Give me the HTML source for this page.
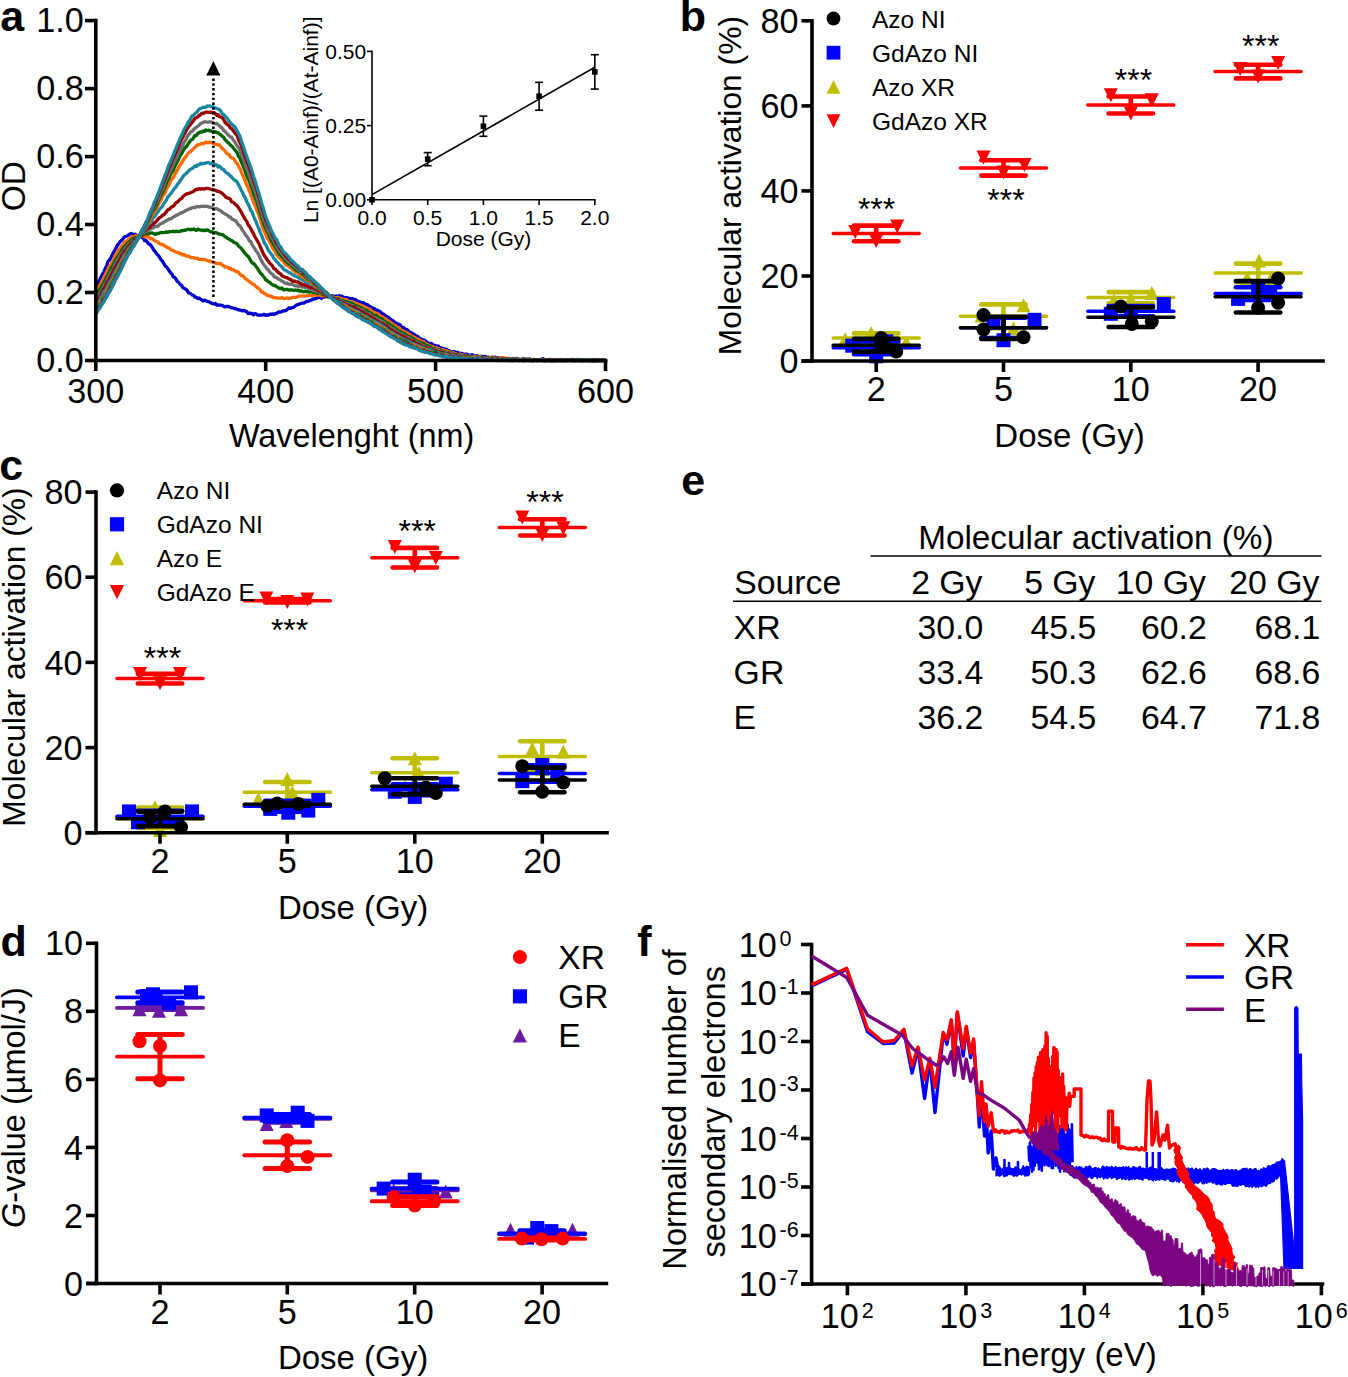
<!DOCTYPE html>
<html><head><meta charset="utf-8"><title>Figure</title>
<style>
html,body{margin:0;padding:0;background:#fff;}
body{width:1348px;height:1377px;overflow:hidden;}
svg{display:block;}
text{font-family:"Liberation Sans", sans-serif;fill:#000;}
</style></head><body>
<svg width="1348" height="1377" viewBox="0 0 1348 1377">
<rect width="1348" height="1377" fill="#fff"/>
<g>
<polyline points="95.8,286.6 97.2,285.7 98.5,281.8 99.9,279.5 101.2,276.7 102.6,273.9 104.0,271.9 105.3,268.4 106.7,265.9 108.0,261.5 109.4,260.1 110.8,257.8 112.1,255.1 113.5,252.6 114.8,250.2 116.2,247.6 117.5,245.2 118.9,243.7 120.3,241.4 121.6,240.3 123.0,238.8 124.3,237.1 125.7,236.5 127.1,236.0 128.4,235.1 129.8,234.1 131.1,233.3 132.5,234.2 133.9,234.4 135.2,234.2 136.6,235.4 137.9,235.7 139.3,235.7 140.7,236.5 142.0,237.5 143.4,238.2 144.7,240.7 146.1,240.3 147.4,242.3 148.8,243.9 150.2,244.6 151.5,246.2 152.9,248.5 154.2,250.7 155.6,252.2 157.0,254.1 158.3,255.4 159.7,257.5 161.0,259.6 162.4,261.1 163.8,263.5 165.1,265.7 166.5,266.9 167.8,268.7 169.2,270.8 170.6,272.8 171.9,274.1 173.3,276.9 174.6,277.3 176.0,279.1 177.4,281.6 178.7,282.4 180.1,284.4 181.4,285.1 182.8,287.6 184.1,288.4 185.5,289.0 186.9,290.1 188.2,292.6 189.6,293.1 190.9,293.8 192.3,295.2 193.7,295.3 195.0,297.2 196.4,297.3 197.7,298.5 199.1,298.1 200.5,299.3 201.8,300.0 203.2,301.0 204.5,300.1 205.9,300.9 207.3,301.4 208.6,301.6 210.0,302.4 211.3,303.2 212.7,303.6 214.1,304.0 215.4,303.5 216.8,305.0 218.1,305.0 219.5,305.2 220.8,305.2 222.2,305.4 223.6,306.4 224.9,306.9 226.3,306.5 227.6,306.3 229.0,306.8 230.4,307.3 231.7,307.9 233.1,307.9 234.4,308.5 235.8,308.5 237.2,309.5 238.5,309.6 239.9,310.1 241.2,310.3 242.6,310.9 244.0,310.4 245.3,311.2 246.7,311.6 248.0,313.5 249.4,313.1 250.7,313.6 252.1,313.4 253.5,314.8 254.8,313.6 256.2,313.9 257.5,315.1 258.9,315.1 260.3,315.2 261.6,315.1 263.0,314.9 264.3,314.4 265.7,315.4 267.1,314.9 268.4,315.1 269.8,314.2 271.1,314.4 272.5,313.8 273.9,314.4 275.2,313.7 276.6,313.5 277.9,312.1 279.3,312.0 280.7,312.0 282.0,311.6 283.4,310.8 284.7,310.8 286.1,310.4 287.4,309.3 288.8,307.9 290.2,308.4 291.5,307.9 292.9,307.5 294.2,306.9 295.6,305.6 297.0,304.8 298.3,304.6 299.7,303.9 301.0,303.5 302.4,303.0 303.8,303.2 305.1,302.2 306.5,301.5 307.8,301.4 309.2,300.7 310.6,300.4 311.9,299.8 313.3,298.9 314.6,299.0 316.0,298.5 317.3,297.8 318.7,297.6 320.1,296.9 321.4,298.3 322.8,296.9 324.1,297.2 325.5,296.8 326.9,296.3 328.2,296.1 329.6,296.0 330.9,296.3 332.3,295.6 333.7,296.4 335.0,296.3 336.4,296.0 337.7,296.7 339.1,295.7 340.5,296.3 341.8,296.1 343.2,297.2 344.5,297.6 345.9,297.6 347.3,297.6 348.6,298.5 350.0,298.3 351.3,298.8 352.7,298.5 354.0,299.8 355.4,299.5 356.8,300.7 358.1,301.3 359.5,301.8 360.8,302.5 362.2,302.6 363.6,302.9 364.9,303.9 366.3,304.4 367.6,304.7 369.0,305.9 370.4,306.6 371.7,307.5 373.1,308.8 374.4,308.5 375.8,310.3 377.2,310.0 378.5,311.1 379.9,311.4 381.2,312.8 382.6,313.9 384.0,314.3 385.3,315.6 386.7,316.4 388.0,317.2 389.4,318.2 390.7,319.2 392.1,320.4 393.5,321.1 394.8,322.8 396.2,322.9 397.5,324.3 398.9,324.2 400.3,325.1 401.6,327.3 403.0,327.3 404.3,328.2 405.7,329.4 407.1,329.7 408.4,330.9 409.8,332.4 411.1,332.6 412.5,333.5 413.9,334.2 415.2,335.7 416.6,335.8 417.9,336.6 419.3,338.2 420.6,338.8 422.0,339.4 423.4,340.4 424.7,340.2 426.1,341.5 427.4,342.7 428.8,343.3 430.2,343.7 431.5,343.3 432.9,344.9 434.2,345.3 435.6,345.7 437.0,346.5 438.3,346.0 439.7,347.7 441.0,347.7 442.4,348.4 443.8,348.7 445.1,349.9 446.5,349.2 447.8,350.4 449.2,350.7 450.6,351.5 451.9,351.8 453.3,351.7 454.6,351.9 456.0,352.3 457.3,352.4 458.7,352.9 460.1,353.5 461.4,353.4 462.8,353.8 464.1,354.3 465.5,354.2 466.9,354.2 468.2,354.8 469.6,355.3 470.9,355.0 472.3,354.7 473.7,355.8 475.0,355.9 476.4,356.1 477.7,355.7 479.1,357.1 480.5,356.4 481.8,356.2 483.2,357.2 484.5,356.4 485.9,356.9 487.2,357.4 488.6,357.2 490.0,358.1 491.3,357.8 492.7,356.9 494.0,358.1 495.4,357.1 496.8,358.0 498.1,357.6 499.5,358.1 500.8,359.1 502.2,358.5 503.6,358.3 504.9,358.9 506.3,359.1 507.6,358.4 509.0,358.9 510.4,359.4 511.7,359.1 513.1,358.5 514.4,359.1 515.8,358.6 517.2,358.4 518.5,359.1 519.9,359.6 521.2,359.7 522.6,359.2 523.9,358.9 525.3,359.2 526.7,359.1 528.0,359.6 529.4,359.3 530.7,359.7 532.1,359.6 533.5,360.1 534.8,360.2 536.2,359.8 537.5,360.1 538.9,360.1 540.3,359.5 541.6,359.8 543.0,358.6 544.3,359.5 545.7,360.1 547.1,359.6 548.4,359.8 549.8,360.2 551.1,359.5 552.5,360.3 553.9,360.5 555.2,359.7 556.6,360.3 557.9,359.5 559.3,360.4 560.6,360.5 562.0,359.5 563.4,360.5 564.7,360.1 566.1,359.6 567.4,360.2 568.8,360.3 570.2,360.2 571.5,359.9 572.9,360.5 574.2,360.0 575.6,360.1 577.0,359.4 578.3,360.5 579.7,360.5 581.0,360.1 582.4,360.5 583.8,360.3 585.1,360.3 586.5,359.9 587.8,360.5 589.2,360.5 590.5,360.5 591.9,360.5 593.3,359.8 594.6,360.5 596.0,360.5 597.3,360.5 598.7,360.3 600.1,360.4 601.4,360.5 602.8,360.2 604.1,360.4 605.5,360.2" fill="none" stroke="#0000CC" stroke-width="3.3" stroke-linejoin="round" />
<polyline points="95.8,293.3 97.2,289.8 98.5,287.7 99.9,285.3 101.2,282.9 102.6,280.2 104.0,277.1 105.3,274.9 106.7,271.7 108.0,269.2 109.4,266.3 110.8,264.0 112.1,261.7 113.5,259.9 114.8,256.4 116.2,253.8 117.5,251.8 118.9,249.6 120.3,248.1 121.6,246.2 123.0,244.8 124.3,242.3 125.7,241.5 127.1,240.5 128.4,239.7 129.8,238.2 131.1,236.9 132.5,236.8 133.9,237.0 135.2,235.9 136.6,235.8 137.9,235.8 139.3,235.8 140.7,235.6 142.0,235.8 143.4,235.9 144.7,236.8 146.1,236.1 147.4,237.0 148.8,236.7 150.2,238.9 151.5,238.4 152.9,239.1 154.2,240.5 155.6,241.1 157.0,241.7 158.3,242.5 159.7,243.7 161.0,244.3 162.4,244.5 163.8,245.1 165.1,246.3 166.5,247.1 167.8,247.7 169.2,248.0 170.6,249.6 171.9,250.3 173.3,250.4 174.6,251.6 176.0,252.0 177.4,252.3 178.7,252.7 180.1,253.9 181.4,253.6 182.8,255.1 184.1,254.5 185.5,255.9 186.9,256.2 188.2,255.9 189.6,256.8 190.9,257.5 192.3,257.7 193.7,257.7 195.0,258.2 196.4,258.5 197.7,258.3 199.1,259.3 200.5,259.4 201.8,259.7 203.2,259.3 204.5,259.7 205.9,259.8 207.3,260.7 208.6,261.0 210.0,261.0 211.3,261.9 212.7,261.7 214.1,262.2 215.4,263.1 216.8,263.3 218.1,263.7 219.5,263.4 220.8,263.5 222.2,265.2 223.6,265.7 224.9,267.2 226.3,266.7 227.6,267.4 229.0,268.4 230.4,268.2 231.7,269.7 233.1,269.8 234.4,270.2 235.8,271.5 237.2,271.5 238.5,272.3 239.9,274.3 241.2,275.4 242.6,275.7 244.0,277.1 245.3,278.8 246.7,279.5 248.0,280.6 249.4,281.7 250.7,282.4 252.1,283.7 253.5,284.2 254.8,285.4 256.2,286.8 257.5,287.7 258.9,288.7 260.3,290.2 261.6,292.1 263.0,292.3 264.3,293.7 265.7,293.9 267.1,295.2 268.4,295.6 269.8,296.2 271.1,296.1 272.5,297.1 273.9,297.6 275.2,297.6 276.6,298.1 277.9,298.0 279.3,298.2 280.7,298.1 282.0,297.5 283.4,298.5 284.7,298.3 286.1,298.4 287.4,297.9 288.8,298.5 290.2,298.2 291.5,297.7 292.9,297.3 294.2,297.3 295.6,297.3 297.0,297.2 298.3,296.4 299.7,295.9 301.0,296.2 302.4,296.1 303.8,295.8 305.1,296.2 306.5,295.9 307.8,295.7 309.2,295.4 310.6,295.4 311.9,295.8 313.3,294.8 314.6,294.5 316.0,295.3 317.3,295.0 318.7,295.1 320.1,295.0 321.4,296.1 322.8,294.9 324.1,295.9 325.5,295.4 326.9,296.0 328.2,296.4 329.6,296.5 330.9,296.2 332.3,297.1 333.7,297.2 335.0,297.5 336.4,298.2 337.7,297.3 339.1,297.9 340.5,298.5 341.8,298.4 343.2,299.7 344.5,299.7 345.9,299.4 347.3,300.1 348.6,301.8 350.0,302.6 351.3,302.1 352.7,301.7 354.0,302.8 355.4,303.2 356.8,303.4 358.1,304.6 359.5,304.8 360.8,305.1 362.2,305.9 363.6,306.6 364.9,307.7 366.3,307.9 367.6,309.0 369.0,309.0 370.4,309.3 371.7,311.3 373.1,312.6 374.4,312.6 375.8,313.1 377.2,313.6 378.5,314.3 379.9,315.9 381.2,316.8 382.6,316.8 384.0,318.6 385.3,318.7 386.7,320.1 388.0,320.6 389.4,321.6 390.7,322.5 392.1,323.4 393.5,325.0 394.8,325.4 396.2,326.4 397.5,327.2 398.9,327.7 400.3,329.2 401.6,330.2 403.0,331.0 404.3,331.6 405.7,332.0 407.1,333.4 408.4,333.4 409.8,334.6 411.1,335.6 412.5,336.9 413.9,337.0 415.2,337.7 416.6,339.5 417.9,339.0 419.3,339.6 420.6,340.9 422.0,341.6 423.4,341.5 424.7,342.7 426.1,344.2 427.4,344.5 428.8,345.1 430.2,345.7 431.5,347.2 432.9,346.4 434.2,347.5 435.6,347.6 437.0,348.2 438.3,348.3 439.7,349.2 441.0,349.9 442.4,349.8 443.8,349.9 445.1,351.0 446.5,350.7 447.8,351.6 449.2,352.3 450.6,351.8 451.9,353.1 453.3,352.7 454.6,353.6 456.0,353.6 457.3,354.5 458.7,354.6 460.1,354.1 461.4,354.7 462.8,355.0 464.1,355.4 465.5,355.2 466.9,356.1 468.2,356.2 469.6,356.0 470.9,356.5 472.3,356.6 473.7,356.5 475.0,356.7 476.4,356.8 477.7,356.2 479.1,356.6 480.5,356.7 481.8,357.3 483.2,357.6 484.5,358.1 485.9,357.8 487.2,358.6 488.6,358.1 490.0,357.6 491.3,357.4 492.7,357.7 494.0,358.6 495.4,358.1 496.8,358.7 498.1,358.1 499.5,358.6 500.8,358.2 502.2,357.6 503.6,358.4 504.9,357.8 506.3,358.8 507.6,359.1 509.0,358.4 510.4,358.3 511.7,359.3 513.1,359.1 514.4,359.8 515.8,359.3 517.2,358.9 518.5,359.4 519.9,359.6 521.2,360.0 522.6,359.3 523.9,359.2 525.3,359.3 526.7,359.5 528.0,360.1 529.4,358.9 530.7,359.7 532.1,359.8 533.5,359.4 534.8,360.5 536.2,359.8 537.5,359.9 538.9,359.7 540.3,359.3 541.6,359.7 543.0,360.5 544.3,360.1 545.7,359.9 547.1,360.0 548.4,360.5 549.8,360.5 551.1,359.9 552.5,360.0 553.9,360.1 555.2,360.5 556.6,359.4 557.9,360.5 559.3,360.3 560.6,359.4 562.0,360.3 563.4,360.1 564.7,360.5 566.1,359.7 567.4,360.5 568.8,360.2 570.2,360.2 571.5,360.5 572.9,360.0 574.2,360.5 575.6,360.5 577.0,360.4 578.3,360.5 579.7,360.2 581.0,360.0 582.4,360.5 583.8,360.5 585.1,360.5 586.5,360.5 587.8,360.1 589.2,360.5 590.5,360.3 591.9,360.5 593.3,360.5 594.6,360.1 596.0,360.5 597.3,360.5 598.7,359.9 600.1,360.5 601.4,360.5 602.8,360.5 604.1,360.5 605.5,360.5" fill="none" stroke="#FF6A00" stroke-width="3.3" stroke-linejoin="round" />
<polyline points="95.8,297.4 97.2,295.0 98.5,292.2 99.9,289.1 101.2,287.1 102.6,284.4 104.0,282.1 105.3,279.6 106.7,277.2 108.0,275.1 109.4,271.7 110.8,268.6 112.1,266.4 113.5,264.3 114.8,260.8 116.2,259.2 117.5,257.0 118.9,255.0 120.3,252.8 121.6,250.5 123.0,247.6 124.3,246.8 125.7,245.6 127.1,243.9 128.4,242.3 129.8,241.7 131.1,239.9 132.5,238.9 133.9,238.3 135.2,237.6 136.6,237.8 137.9,237.4 139.3,235.6 140.7,235.1 142.0,235.6 143.4,234.5 144.7,234.2 146.1,233.6 147.4,233.5 148.8,233.5 150.2,233.0 151.5,233.0 152.9,233.1 154.2,233.9 155.6,234.4 157.0,233.4 158.3,233.7 159.7,232.8 161.0,232.5 162.4,232.6 163.8,232.7 165.1,232.4 166.5,231.8 167.8,232.4 169.2,231.6 170.6,231.6 171.9,231.7 173.3,231.1 174.6,231.9 176.0,231.1 177.4,231.7 178.7,231.4 180.1,231.4 181.4,230.5 182.8,230.8 184.1,230.2 185.5,230.5 186.9,229.5 188.2,229.2 189.6,229.8 190.9,229.3 192.3,229.7 193.7,229.0 195.0,229.8 196.4,230.4 197.7,229.1 199.1,229.7 200.5,230.1 201.8,230.1 203.2,230.6 204.5,230.1 205.9,230.6 207.3,229.8 208.6,230.4 210.0,231.6 211.3,231.9 212.7,231.9 214.1,232.8 215.4,232.5 216.8,232.9 218.1,233.6 219.5,234.1 220.8,234.3 222.2,234.6 223.6,235.3 224.9,236.7 226.3,237.2 227.6,238.6 229.0,238.9 230.4,240.2 231.7,240.3 233.1,241.8 234.4,242.5 235.8,243.1 237.2,244.0 238.5,246.1 239.9,247.1 241.2,248.4 242.6,250.0 244.0,252.1 245.3,253.5 246.7,255.3 248.0,256.2 249.4,258.2 250.7,260.7 252.1,262.7 253.5,263.5 254.8,264.7 256.2,266.8 257.5,268.3 258.9,270.7 260.3,272.9 261.6,274.0 263.0,276.0 264.3,277.5 265.7,279.8 267.1,280.4 268.4,281.8 269.8,282.3 271.1,283.8 272.5,284.7 273.9,285.5 275.2,285.5 276.6,286.6 277.9,287.5 279.3,288.2 280.7,288.6 282.0,288.0 283.4,289.8 284.7,289.7 286.1,289.4 287.4,289.4 288.8,290.1 290.2,289.9 291.5,290.0 292.9,290.1 294.2,290.5 295.6,290.0 297.0,290.6 298.3,290.1 299.7,291.3 301.0,290.6 302.4,291.6 303.8,291.8 305.1,291.1 306.5,291.8 307.8,291.4 309.2,292.2 310.6,291.2 311.9,292.1 313.3,292.7 314.6,292.4 316.0,292.4 317.3,293.3 318.7,293.1 320.1,292.8 321.4,293.7 322.8,294.4 324.1,295.0 325.5,294.9 326.9,296.2 328.2,297.2 329.6,296.6 330.9,297.2 332.3,296.4 333.7,297.5 335.0,298.4 336.4,298.9 337.7,298.7 339.1,299.7 340.5,300.1 341.8,300.3 343.2,300.8 344.5,301.3 345.9,301.8 347.3,301.8 348.6,302.1 350.0,304.0 351.3,302.8 352.7,304.3 354.0,304.4 355.4,305.7 356.8,305.9 358.1,306.6 359.5,307.3 360.8,307.6 362.2,308.4 363.6,309.7 364.9,310.1 366.3,310.4 367.6,311.2 369.0,312.3 370.4,313.0 371.7,313.7 373.1,314.8 374.4,315.7 375.8,315.2 377.2,316.8 378.5,317.4 379.9,318.6 381.2,318.6 382.6,319.3 384.0,321.0 385.3,321.6 386.7,323.0 388.0,322.9 389.4,324.2 390.7,325.8 392.1,325.8 393.5,327.1 394.8,328.0 396.2,328.9 397.5,330.2 398.9,331.0 400.3,331.3 401.6,332.4 403.0,333.5 404.3,333.1 405.7,334.7 407.1,335.6 408.4,336.5 409.8,336.7 411.1,337.3 412.5,338.4 413.9,338.9 415.2,340.6 416.6,340.9 417.9,341.6 419.3,342.1 420.6,342.6 422.0,344.4 423.4,342.9 424.7,345.2 426.1,345.3 427.4,345.7 428.8,346.2 430.2,347.0 431.5,348.8 432.9,348.5 434.2,348.2 435.6,349.4 437.0,349.9 438.3,350.8 439.7,349.8 441.0,350.5 442.4,351.5 443.8,351.6 445.1,352.0 446.5,352.8 447.8,352.8 449.2,352.9 450.6,353.1 451.9,353.2 453.3,354.0 454.6,354.5 456.0,354.4 457.3,355.1 458.7,355.6 460.1,354.8 461.4,355.6 462.8,355.6 464.1,355.6 465.5,356.5 466.9,355.9 468.2,356.2 469.6,356.6 470.9,356.5 472.3,357.1 473.7,357.9 475.0,357.2 476.4,357.6 477.7,357.0 479.1,357.4 480.5,357.8 481.8,357.7 483.2,357.3 484.5,357.5 485.9,357.9 487.2,358.0 488.6,358.3 490.0,358.4 491.3,358.1 492.7,358.5 494.0,358.4 495.4,359.1 496.8,359.4 498.1,359.4 499.5,359.0 500.8,358.3 502.2,358.5 503.6,359.4 504.9,359.7 506.3,358.8 507.6,359.0 509.0,359.8 510.4,358.8 511.7,359.2 513.1,358.8 514.4,359.3 515.8,359.1 517.2,359.4 518.5,359.9 519.9,359.7 521.2,359.9 522.6,359.3 523.9,360.1 525.3,360.3 526.7,359.5 528.0,359.3 529.4,359.2 530.7,359.4 532.1,360.5 533.5,360.2 534.8,360.1 536.2,359.9 537.5,360.5 538.9,360.0 540.3,359.9 541.6,360.4 543.0,360.0 544.3,359.6 545.7,360.1 547.1,359.7 548.4,359.7 549.8,360.0 551.1,360.0 552.5,360.3 553.9,359.7 555.2,360.4 556.6,360.5 557.9,359.9 559.3,360.5 560.6,360.1 562.0,359.8 563.4,360.2 564.7,360.2 566.1,359.9 567.4,360.0 568.8,360.5 570.2,360.5 571.5,359.8 572.9,360.2 574.2,360.5 575.6,360.5 577.0,360.4 578.3,360.5 579.7,360.2 581.0,360.4 582.4,360.2 583.8,360.5 585.1,360.2 586.5,359.6 587.8,360.5 589.2,359.9 590.5,360.1 591.9,360.2 593.3,360.5 594.6,360.5 596.0,360.5 597.3,360.2 598.7,360.1 600.1,360.0 601.4,360.1 602.8,360.1 604.1,360.5 605.5,360.5" fill="none" stroke="#006400" stroke-width="3.3" stroke-linejoin="round" />
<polyline points="95.8,300.4 97.2,297.9 98.5,295.6 99.9,293.8 101.2,290.9 102.6,288.9 104.0,285.7 105.3,283.6 106.7,280.7 108.0,278.0 109.4,275.5 110.8,272.5 112.1,270.9 113.5,268.8 114.8,265.0 116.2,262.3 117.5,259.9 118.9,258.0 120.3,255.7 121.6,253.6 123.0,252.2 124.3,249.9 125.7,247.7 127.1,246.5 128.4,243.9 129.8,243.8 131.1,242.1 132.5,240.4 133.9,240.1 135.2,239.4 136.6,238.5 137.9,237.3 139.3,235.5 140.7,234.9 142.0,234.0 143.4,233.5 144.7,232.1 146.1,231.5 147.4,231.1 148.8,230.1 150.2,229.1 151.5,228.1 152.9,228.0 154.2,227.2 155.6,226.0 157.0,226.5 158.3,225.9 159.7,224.2 161.0,223.7 162.4,223.1 163.8,222.2 165.1,221.6 166.5,220.5 167.8,220.1 169.2,218.8 170.6,218.9 171.9,218.1 173.3,217.0 174.6,216.5 176.0,215.3 177.4,214.9 178.7,214.3 180.1,213.2 181.4,212.8 182.8,212.4 184.1,211.5 185.5,210.7 186.9,210.1 188.2,209.4 189.6,208.7 190.9,208.5 192.3,207.6 193.7,207.4 195.0,207.7 196.4,206.6 197.7,206.5 199.1,206.9 200.5,206.5 201.8,206.1 203.2,206.5 204.5,206.1 205.9,206.4 207.3,206.4 208.6,207.0 210.0,207.0 211.3,207.7 212.7,207.6 214.1,209.0 215.4,208.6 216.8,208.6 218.1,209.4 219.5,210.3 220.8,210.8 222.2,212.2 223.6,213.1 224.9,213.8 226.3,214.7 227.6,215.2 229.0,216.9 230.4,217.0 231.7,218.9 233.1,219.5 234.4,220.2 235.8,220.8 237.2,222.9 238.5,225.1 239.9,225.8 241.2,227.9 242.6,230.4 244.0,232.4 245.3,234.4 246.7,236.2 248.0,238.0 249.4,241.0 250.7,241.5 252.1,244.6 253.5,246.9 254.8,248.7 256.2,251.1 257.5,252.5 258.9,255.3 260.3,258.4 261.6,260.9 263.0,263.3 264.3,265.4 265.7,266.9 267.1,269.2 268.4,269.8 269.8,272.0 271.1,273.4 272.5,274.2 273.9,276.5 275.2,277.2 276.6,277.6 277.9,278.7 279.3,279.6 280.7,280.2 282.0,281.3 283.4,281.8 284.7,282.9 286.1,283.6 287.4,282.9 288.8,284.2 290.2,284.5 291.5,284.0 292.9,284.5 294.2,285.5 295.6,285.8 297.0,285.9 298.3,286.6 299.7,286.2 301.0,286.7 302.4,287.0 303.8,287.1 305.1,287.4 306.5,287.3 307.8,287.8 309.2,289.5 310.6,288.8 311.9,290.0 313.3,290.6 314.6,290.1 316.0,291.1 317.3,291.5 318.7,291.4 320.1,292.6 321.4,293.3 322.8,293.3 324.1,293.5 325.5,294.4 326.9,295.8 328.2,296.0 329.6,296.4 330.9,296.1 332.3,297.1 333.7,297.6 335.0,298.1 336.4,299.2 337.7,299.5 339.1,300.1 340.5,301.2 341.8,301.4 343.2,301.8 344.5,303.1 345.9,302.9 347.3,303.5 348.6,303.9 350.0,305.2 351.3,305.5 352.7,305.5 354.0,306.4 355.4,307.6 356.8,307.8 358.1,308.0 359.5,309.3 360.8,309.8 362.2,309.6 363.6,311.4 364.9,312.1 366.3,313.2 367.6,313.8 369.0,313.6 370.4,315.0 371.7,316.2 373.1,316.9 374.4,317.2 375.8,317.7 377.2,319.1 378.5,319.3 379.9,320.7 381.2,321.2 382.6,322.0 384.0,322.8 385.3,324.2 386.7,324.9 388.0,325.6 389.4,327.2 390.7,327.5 392.1,328.3 393.5,328.9 394.8,330.3 396.2,331.2 397.5,331.9 398.9,333.1 400.3,333.7 401.6,334.2 403.0,335.0 404.3,336.3 405.7,336.7 407.1,338.2 408.4,337.7 409.8,339.0 411.1,339.4 412.5,340.6 413.9,340.9 415.2,341.4 416.6,341.9 417.9,343.5 419.3,343.3 420.6,344.4 422.0,345.3 423.4,345.4 424.7,346.3 426.1,346.9 427.4,347.6 428.8,347.7 430.2,348.3 431.5,348.8 432.9,349.6 434.2,349.8 435.6,349.9 437.0,350.0 438.3,350.9 439.7,350.7 441.0,351.7 442.4,352.5 443.8,352.2 445.1,353.2 446.5,353.0 447.8,353.1 449.2,353.9 450.6,354.2 451.9,353.4 453.3,354.6 454.6,354.9 456.0,354.9 457.3,355.5 458.7,355.7 460.1,355.7 461.4,357.0 462.8,355.7 464.1,356.8 465.5,357.0 466.9,356.5 468.2,356.9 469.6,357.5 470.9,357.1 472.3,357.8 473.7,357.7 475.0,358.2 476.4,358.0 477.7,357.6 479.1,357.8 480.5,357.9 481.8,357.7 483.2,358.2 484.5,358.6 485.9,358.5 487.2,357.8 488.6,358.5 490.0,358.5 491.3,358.7 492.7,358.6 494.0,358.6 495.4,358.9 496.8,359.0 498.1,359.3 499.5,359.4 500.8,358.9 502.2,358.9 503.6,358.8 504.9,359.3 506.3,359.7 507.6,359.1 509.0,359.2 510.4,360.1 511.7,359.2 513.1,359.3 514.4,358.9 515.8,360.1 517.2,360.2 518.5,359.4 519.9,360.5 521.2,360.1 522.6,360.2 523.9,360.2 525.3,360.5 526.7,360.0 528.0,359.5 529.4,359.8 530.7,359.8 532.1,360.1 533.5,359.4 534.8,359.8 536.2,359.6 537.5,360.5 538.9,360.0 540.3,360.5 541.6,360.0 543.0,360.1 544.3,360.5 545.7,360.1 547.1,359.7 548.4,360.0 549.8,360.0 551.1,360.5 552.5,360.5 553.9,360.5 555.2,360.2 556.6,359.8 557.9,360.1 559.3,360.3 560.6,360.5 562.0,360.1 563.4,360.4 564.7,360.5 566.1,360.5 567.4,360.5 568.8,360.5 570.2,359.7 571.5,360.4 572.9,360.5 574.2,360.5 575.6,359.8 577.0,360.5 578.3,360.1 579.7,360.2 581.0,359.8 582.4,360.2 583.8,360.5 585.1,360.2 586.5,360.4 587.8,360.1 589.2,360.5 590.5,359.7 591.9,360.5 593.3,360.3 594.6,360.5 596.0,360.4 597.3,360.5 598.7,360.4 600.1,360.1 601.4,360.5 602.8,360.5 604.1,360.0 605.5,360.5" fill="none" stroke="#6E6E6E" stroke-width="3.3" stroke-linejoin="round" />
<polyline points="95.8,303.3 97.2,300.2 98.5,298.0 99.9,297.0 101.2,293.6 102.6,290.7 104.0,288.2 105.3,286.3 106.7,282.9 108.0,281.4 109.4,278.7 110.8,276.0 112.1,273.5 113.5,270.6 114.8,268.0 116.2,265.9 117.5,262.8 118.9,261.2 120.3,258.7 121.6,255.6 123.0,254.1 124.3,251.6 125.7,250.3 127.1,248.4 128.4,246.5 129.8,244.8 131.1,243.6 132.5,242.1 133.9,240.6 135.2,239.2 136.6,238.5 137.9,237.1 139.3,235.7 140.7,235.2 142.0,234.2 143.4,231.6 144.7,230.5 146.1,229.8 147.4,228.5 148.8,227.8 150.2,226.8 151.5,225.0 152.9,224.6 154.2,222.6 155.6,222.2 157.0,220.6 158.3,218.7 159.7,217.5 161.0,217.0 162.4,215.2 163.8,214.8 165.1,213.3 166.5,211.6 167.8,209.9 169.2,209.4 170.6,207.8 171.9,206.8 173.3,206.2 174.6,204.6 176.0,202.7 177.4,202.1 178.7,200.7 180.1,199.3 181.4,198.8 182.8,196.8 184.1,195.6 185.5,194.5 186.9,193.7 188.2,193.7 189.6,193.1 190.9,192.5 192.3,192.0 193.7,191.3 195.0,190.0 196.4,189.2 197.7,189.6 199.1,188.6 200.5,189.2 201.8,188.7 203.2,188.8 204.5,189.0 205.9,188.3 207.3,188.3 208.6,188.7 210.0,189.0 211.3,189.5 212.7,189.5 214.1,190.1 215.4,190.2 216.8,191.2 218.1,191.2 219.5,191.8 220.8,192.3 222.2,193.3 223.6,194.7 224.9,196.1 226.3,197.6 227.6,197.9 229.0,198.4 230.4,199.3 231.7,202.0 233.1,202.3 234.4,203.3 235.8,204.8 237.2,205.8 238.5,207.7 239.9,209.9 241.2,211.9 242.6,214.9 244.0,217.1 245.3,219.5 246.7,221.2 248.0,224.6 249.4,226.4 250.7,228.5 252.1,231.3 253.5,233.5 254.8,236.7 256.2,238.8 257.5,241.2 258.9,243.5 260.3,247.0 261.6,249.7 263.0,253.0 264.3,255.6 265.7,257.3 267.1,259.7 268.4,261.3 269.8,263.3 271.1,264.4 272.5,265.9 273.9,268.7 275.2,269.0 276.6,270.8 277.9,272.0 279.3,273.3 280.7,274.0 282.0,275.7 283.4,276.4 284.7,277.2 286.1,277.5 287.4,278.0 288.8,278.7 290.2,279.4 291.5,280.4 292.9,281.4 294.2,281.0 295.6,281.6 297.0,282.0 298.3,282.0 299.7,283.1 301.0,283.6 302.4,285.0 303.8,284.3 305.1,285.0 306.5,285.8 307.8,285.8 309.2,287.0 310.6,287.3 311.9,286.8 313.3,287.9 314.6,288.4 316.0,289.1 317.3,289.8 318.7,290.6 320.1,290.4 321.4,292.1 322.8,292.4 324.1,293.5 325.5,294.3 326.9,295.9 328.2,296.4 329.6,295.7 330.9,296.4 332.3,297.9 333.7,298.4 335.0,298.7 336.4,300.1 337.7,299.6 339.1,301.4 340.5,301.9 341.8,303.4 343.2,302.4 344.5,303.6 345.9,303.6 347.3,305.3 348.6,305.4 350.0,306.2 351.3,306.7 352.7,306.6 354.0,307.2 355.4,308.2 356.8,309.6 358.1,309.7 359.5,310.2 360.8,311.2 362.2,312.0 363.6,312.7 364.9,314.0 366.3,314.3 367.6,314.5 369.0,316.3 370.4,316.6 371.7,317.0 373.1,318.7 374.4,318.9 375.8,320.4 377.2,320.7 378.5,321.9 379.9,322.5 381.2,323.2 382.6,324.0 384.0,324.8 385.3,326.6 386.7,325.9 388.0,327.6 389.4,328.8 390.7,329.5 392.1,330.0 393.5,331.4 394.8,332.0 396.2,332.9 397.5,333.3 398.9,334.7 400.3,335.0 401.6,335.7 403.0,336.7 404.3,336.8 405.7,338.0 407.1,339.2 408.4,339.3 409.8,340.1 411.1,340.8 412.5,341.4 413.9,341.2 415.2,342.8 416.6,343.3 417.9,344.3 419.3,344.3 420.6,345.4 422.0,346.4 423.4,347.1 424.7,347.0 426.1,347.4 427.4,348.9 428.8,349.0 430.2,348.9 431.5,349.2 432.9,350.6 434.2,350.6 435.6,350.5 437.0,351.5 438.3,351.8 439.7,352.2 441.0,352.9 442.4,352.7 443.8,353.0 445.1,354.0 446.5,353.7 447.8,353.6 449.2,354.3 450.6,354.3 451.9,355.2 453.3,354.7 454.6,355.8 456.0,355.0 457.3,356.1 458.7,356.4 460.1,356.7 461.4,356.7 462.8,356.9 464.1,357.1 465.5,357.1 466.9,356.8 468.2,356.9 469.6,357.5 470.9,357.0 472.3,358.0 473.7,358.2 475.0,358.3 476.4,357.7 477.7,358.7 479.1,358.8 480.5,357.8 481.8,357.7 483.2,357.9 484.5,359.1 485.9,358.6 487.2,358.4 488.6,358.7 490.0,359.5 491.3,359.0 492.7,359.6 494.0,359.5 495.4,358.2 496.8,358.8 498.1,359.8 499.5,359.8 500.8,359.1 502.2,359.6 503.6,359.1 504.9,359.7 506.3,359.6 507.6,359.4 509.0,360.0 510.4,360.4 511.7,360.1 513.1,360.0 514.4,359.8 515.8,359.8 517.2,359.8 518.5,359.6 519.9,360.2 521.2,359.3 522.6,359.1 523.9,359.8 525.3,359.9 526.7,359.5 528.0,359.8 529.4,360.0 530.7,360.1 532.1,360.4 533.5,360.5 534.8,359.8 536.2,359.7 537.5,360.5 538.9,360.2 540.3,360.1 541.6,360.4 543.0,360.5 544.3,360.4 545.7,360.5 547.1,360.3 548.4,360.4 549.8,359.4 551.1,359.9 552.5,360.4 553.9,360.3 555.2,359.6 556.6,359.7 557.9,360.3 559.3,360.4 560.6,360.5 562.0,360.5 563.4,360.4 564.7,360.5 566.1,359.7 567.4,360.5 568.8,360.4 570.2,360.2 571.5,360.2 572.9,359.7 574.2,360.5 575.6,360.5 577.0,360.4 578.3,360.4 579.7,360.5 581.0,360.5 582.4,360.0 583.8,360.5 585.1,360.5 586.5,359.9 587.8,359.8 589.2,360.1 590.5,360.5 591.9,360.5 593.3,360.5 594.6,360.5 596.0,360.5 597.3,360.0 598.7,360.4 600.1,360.5 601.4,360.5 602.8,360.5 604.1,360.0 605.5,360.5" fill="none" stroke="#990000" stroke-width="3.3" stroke-linejoin="round" />
<polyline points="95.8,306.4 97.2,304.8 98.5,302.4 99.9,300.3 101.2,296.9 102.6,295.0 104.0,291.4 105.3,290.5 106.7,288.1 108.0,284.9 109.4,282.5 110.8,280.3 112.1,278.5 113.5,274.6 114.8,272.3 116.2,269.8 117.5,267.7 118.9,264.6 120.3,262.6 121.6,259.9 123.0,257.6 124.3,254.8 125.7,253.3 127.1,251.2 128.4,248.7 129.8,247.2 131.1,245.6 132.5,244.1 133.9,242.0 135.2,241.2 136.6,239.2 137.9,236.9 139.3,236.0 140.7,234.7 142.0,233.2 143.4,230.9 144.7,229.7 146.1,228.1 147.4,226.0 148.8,224.3 150.2,221.7 151.5,220.9 152.9,218.0 154.2,217.2 155.6,215.1 157.0,213.0 158.3,211.3 159.7,209.1 161.0,207.8 162.4,206.3 163.8,203.5 165.1,202.0 166.5,199.6 167.8,197.0 169.2,195.5 170.6,193.8 171.9,192.2 173.3,190.1 174.6,188.2 176.0,187.0 177.4,184.4 178.7,183.1 180.1,180.7 181.4,179.2 182.8,176.9 184.1,175.3 185.5,174.1 186.9,172.8 188.2,171.3 189.6,169.9 190.9,169.0 192.3,168.4 193.7,167.4 195.0,165.9 196.4,166.4 197.7,164.8 199.1,164.8 200.5,163.4 201.8,163.8 203.2,163.4 204.5,163.6 205.9,163.0 207.3,162.6 208.6,162.4 210.0,163.8 211.3,163.8 212.7,162.4 214.1,164.0 215.4,164.8 216.8,165.0 218.1,167.0 219.5,166.0 220.8,167.5 222.2,169.3 223.6,169.3 224.9,171.3 226.3,172.7 227.6,173.3 229.0,174.6 230.4,176.1 231.7,177.1 233.1,178.8 234.4,180.1 235.8,180.6 237.2,182.2 238.5,184.7 239.9,187.1 241.2,190.0 242.6,192.6 244.0,195.8 245.3,197.6 246.7,201.5 248.0,203.9 249.4,206.9 250.7,210.4 252.1,212.0 253.5,216.0 254.8,219.3 256.2,222.1 257.5,225.6 258.9,228.6 260.3,232.6 261.6,235.5 263.0,239.1 264.3,242.8 265.7,244.6 267.1,247.5 268.4,250.4 269.8,252.0 271.1,254.1 272.5,255.5 273.9,258.5 275.2,259.5 276.6,261.6 277.9,262.8 279.3,264.6 280.7,265.9 282.0,266.9 283.4,268.8 284.7,270.2 286.1,270.4 287.4,271.5 288.8,272.2 290.2,272.9 291.5,274.1 292.9,274.3 294.2,275.6 295.6,276.2 297.0,276.7 298.3,277.4 299.7,278.4 301.0,279.0 302.4,280.1 303.8,280.7 305.1,281.1 306.5,281.6 307.8,282.8 309.2,283.1 310.6,283.4 311.9,284.1 313.3,285.7 314.6,286.1 316.0,287.1 317.3,287.9 318.7,288.7 320.1,289.7 321.4,290.5 322.8,291.6 324.1,292.7 325.5,293.4 326.9,294.3 328.2,294.9 329.6,296.2 330.9,296.9 332.3,297.4 333.7,299.2 335.0,299.7 336.4,300.2 337.7,301.2 339.1,302.4 340.5,302.3 341.8,303.5 343.2,304.7 344.5,304.2 345.9,306.3 347.3,306.5 348.6,307.5 350.0,307.8 351.3,308.4 352.7,309.6 354.0,310.0 355.4,310.7 356.8,311.8 358.1,311.6 359.5,312.8 360.8,313.7 362.2,314.6 363.6,315.2 364.9,315.7 366.3,316.7 367.6,316.8 369.0,319.1 370.4,319.7 371.7,319.7 373.1,321.1 374.4,321.2 375.8,322.2 377.2,322.5 378.5,323.4 379.9,323.9 381.2,324.9 382.6,325.7 384.0,326.8 385.3,327.5 386.7,328.6 388.0,330.0 389.4,331.1 390.7,332.0 392.1,332.2 393.5,334.2 394.8,334.0 396.2,335.2 397.5,335.4 398.9,336.4 400.3,337.6 401.6,338.0 403.0,339.6 404.3,339.2 405.7,339.8 407.1,341.4 408.4,341.0 409.8,342.1 411.1,342.6 412.5,343.9 413.9,343.7 415.2,344.3 416.6,345.2 417.9,346.2 419.3,346.1 420.6,346.4 422.0,347.3 423.4,347.6 424.7,348.8 426.1,349.0 427.4,349.4 428.8,349.9 430.2,349.3 431.5,350.6 432.9,351.4 434.2,351.2 435.6,352.4 437.0,352.2 438.3,352.3 439.7,353.2 441.0,353.5 442.4,354.1 443.8,353.9 445.1,354.6 446.5,353.9 447.8,354.6 449.2,355.3 450.6,356.0 451.9,354.9 453.3,355.4 454.6,356.0 456.0,356.3 457.3,356.5 458.7,357.0 460.1,356.2 461.4,357.0 462.8,357.8 464.1,357.6 465.5,358.5 466.9,357.3 468.2,357.4 469.6,357.1 470.9,357.1 472.3,358.4 473.7,358.0 475.0,357.9 476.4,358.0 477.7,358.7 479.1,358.2 480.5,358.4 481.8,358.1 483.2,358.8 484.5,358.9 485.9,359.1 487.2,359.1 488.6,359.4 490.0,359.2 491.3,358.9 492.7,359.0 494.0,358.7 495.4,358.9 496.8,359.1 498.1,359.9 499.5,359.2 500.8,359.0 502.2,360.1 503.6,360.0 504.9,360.0 506.3,360.1 507.6,359.8 509.0,360.1 510.4,359.6 511.7,360.3 513.1,359.9 514.4,360.1 515.8,360.3 517.2,359.5 518.5,360.0 519.9,359.8 521.2,360.2 522.6,359.8 523.9,359.8 525.3,360.1 526.7,360.5 528.0,359.8 529.4,359.9 530.7,360.1 532.1,360.1 533.5,360.1 534.8,360.1 536.2,360.5 537.5,360.3 538.9,360.1 540.3,360.5 541.6,360.5 543.0,359.5 544.3,360.0 545.7,360.4 547.1,360.5 548.4,360.5 549.8,360.5 551.1,360.4 552.5,359.8 553.9,360.5 555.2,360.5 556.6,359.6 557.9,360.1 559.3,360.2 560.6,359.9 562.0,360.4 563.4,360.5 564.7,360.1 566.1,360.0 567.4,360.5 568.8,359.8 570.2,360.5 571.5,360.5 572.9,359.2 574.2,360.5 575.6,360.2 577.0,360.5 578.3,360.5 579.7,360.5 581.0,360.5 582.4,360.2 583.8,359.7 585.1,360.1 586.5,359.8 587.8,360.5 589.2,359.9 590.5,360.2 591.9,359.9 593.3,360.5 594.6,360.5 596.0,359.9 597.3,360.2 598.7,360.4 600.1,360.5 601.4,360.5 602.8,360.3 604.1,360.2 605.5,360.5" fill="none" stroke="#17869E" stroke-width="3.3" stroke-linejoin="round" />
<polyline points="95.8,309.5 97.2,307.0 98.5,305.4 99.9,302.3 101.2,300.4 102.6,298.1 104.0,296.7 105.3,294.0 106.7,291.3 108.0,288.7 109.4,286.5 110.8,283.4 112.1,281.0 113.5,278.7 114.8,276.8 116.2,272.8 117.5,270.8 118.9,267.8 120.3,265.7 121.6,262.8 123.0,260.0 124.3,257.8 125.7,255.2 127.1,253.4 128.4,250.4 129.8,250.0 131.1,247.5 132.5,245.0 133.9,243.7 135.2,242.0 136.6,240.7 137.9,237.6 139.3,236.9 140.7,233.8 142.0,231.9 143.4,229.4 144.7,227.0 146.1,225.7 147.4,223.5 148.8,221.1 150.2,219.4 151.5,216.1 152.9,214.3 154.2,211.8 155.6,210.0 157.0,207.1 158.3,204.9 159.7,202.2 161.0,200.0 162.4,196.6 163.8,194.7 165.1,192.8 166.5,189.0 167.8,186.8 169.2,184.6 170.6,180.7 171.9,179.4 173.3,177.7 174.6,175.0 176.0,172.3 177.4,170.2 178.7,167.2 180.1,164.9 181.4,163.4 182.8,160.9 184.1,158.6 185.5,157.1 186.9,155.3 188.2,153.2 189.6,152.0 190.9,151.4 192.3,149.8 193.7,148.5 195.0,147.2 196.4,146.3 197.7,144.6 199.1,144.7 200.5,144.2 201.8,143.2 203.2,143.8 204.5,143.0 205.9,142.1 207.3,142.8 208.6,142.7 210.0,142.1 211.3,142.6 212.7,143.1 214.1,143.5 215.4,144.3 216.8,144.4 218.1,145.2 219.5,145.0 220.8,146.8 222.2,148.4 223.6,149.5 224.9,150.9 226.3,152.8 227.6,154.0 229.0,154.4 230.4,156.9 231.7,157.8 233.1,158.4 234.4,159.7 235.8,162.3 237.2,163.3 238.5,166.4 239.9,168.2 241.2,171.6 242.6,175.0 244.0,177.9 245.3,181.2 246.7,185.0 248.0,187.0 249.4,191.2 250.7,193.9 252.1,198.0 253.5,202.0 254.8,205.2 256.2,208.4 257.5,211.7 258.9,215.1 260.3,219.8 261.6,224.0 263.0,228.3 264.3,231.4 265.7,234.5 267.1,238.3 268.4,239.6 269.8,242.3 271.1,244.3 272.5,247.9 273.9,249.8 275.2,251.9 276.6,254.4 277.9,256.0 279.3,257.8 280.7,258.8 282.0,260.3 283.4,261.4 284.7,263.4 286.1,265.1 287.4,265.5 288.8,266.7 290.2,267.6 291.5,268.5 292.9,270.2 294.2,270.6 295.6,272.3 297.0,272.7 298.3,273.4 299.7,274.6 301.0,275.3 302.4,276.9 303.8,277.4 305.1,278.0 306.5,279.5 307.8,280.3 309.2,279.9 310.6,281.7 311.9,283.1 313.3,284.2 314.6,284.2 316.0,286.9 317.3,286.9 318.7,287.5 320.1,289.1 321.4,289.7 322.8,291.4 324.1,292.0 325.5,293.1 326.9,294.2 328.2,295.3 329.6,296.4 330.9,296.9 332.3,298.4 333.7,299.5 335.0,300.3 336.4,301.2 337.7,302.6 339.1,303.6 340.5,304.3 341.8,304.4 343.2,305.7 344.5,306.4 345.9,305.9 347.3,307.4 348.6,308.7 350.0,309.6 351.3,309.6 352.7,311.2 354.0,311.1 355.4,312.1 356.8,312.6 358.1,314.2 359.5,314.3 360.8,316.1 362.2,316.2 363.6,316.4 364.9,317.3 366.3,319.1 367.6,318.9 369.0,319.7 370.4,320.7 371.7,321.8 373.1,322.4 374.4,323.3 375.8,323.5 377.2,324.5 378.5,325.1 379.9,326.1 381.2,327.8 382.6,328.1 384.0,328.1 385.3,330.3 386.7,330.7 388.0,332.0 389.4,332.9 390.7,333.3 392.1,333.9 393.5,334.8 394.8,335.8 396.2,336.4 397.5,338.2 398.9,338.0 400.3,338.9 401.6,339.9 403.0,340.5 404.3,341.5 405.7,341.3 407.1,342.7 408.4,343.6 409.8,343.6 411.1,344.5 412.5,344.9 413.9,344.9 415.2,346.1 416.6,346.6 417.9,346.3 419.3,348.3 420.6,348.1 422.0,348.3 423.4,348.7 424.7,348.9 426.1,350.5 427.4,350.4 428.8,351.2 430.2,351.7 431.5,352.2 432.9,352.8 434.2,352.5 435.6,352.6 437.0,353.7 438.3,353.3 439.7,354.2 441.0,354.7 442.4,355.6 443.8,354.4 445.1,354.8 446.5,355.5 447.8,355.8 449.2,356.5 450.6,356.0 451.9,356.4 453.3,356.4 454.6,356.8 456.0,357.6 457.3,357.9 458.7,357.2 460.1,358.2 461.4,357.6 462.8,357.4 464.1,358.4 465.5,357.7 466.9,358.1 468.2,358.0 469.6,358.6 470.9,358.4 472.3,358.4 473.7,357.9 475.0,358.4 476.4,358.6 477.7,359.4 479.1,358.8 480.5,359.3 481.8,359.1 483.2,359.0 484.5,358.8 485.9,359.0 487.2,359.2 488.6,359.4 490.0,358.8 491.3,359.8 492.7,359.5 494.0,359.0 495.4,359.7 496.8,359.3 498.1,359.3 499.5,358.9 500.8,359.3 502.2,360.5 503.6,359.8 504.9,359.7 506.3,359.5 507.6,359.8 509.0,359.2 510.4,359.5 511.7,360.5 513.1,360.3 514.4,360.5 515.8,359.4 517.2,360.2 518.5,360.2 519.9,360.5 521.2,360.4 522.6,360.1 523.9,360.4 525.3,360.4 526.7,360.5 528.0,359.5 529.4,360.5 530.7,360.5 532.1,360.5 533.5,360.5 534.8,360.4 536.2,360.5 537.5,360.5 538.9,360.5 540.3,360.3 541.6,360.5 543.0,359.6 544.3,359.8 545.7,360.5 547.1,360.5 548.4,360.1 549.8,359.9 551.1,359.7 552.5,360.5 553.9,360.5 555.2,360.5 556.6,360.3 557.9,360.5 559.3,360.3 560.6,360.3 562.0,360.2 563.4,360.5 564.7,360.4 566.1,360.5 567.4,360.5 568.8,360.0 570.2,360.5 571.5,359.9 572.9,360.5 574.2,359.8 575.6,359.8 577.0,360.5 578.3,360.4 579.7,360.4 581.0,360.5 582.4,360.2 583.8,360.3 585.1,360.5 586.5,360.5 587.8,360.2 589.2,360.5 590.5,360.5 591.9,359.9 593.3,360.5 594.6,360.4 596.0,360.1 597.3,360.2 598.7,360.5 600.1,360.5 601.4,360.5 602.8,360.5 604.1,360.3 605.5,360.3" fill="none" stroke="#FF6A00" stroke-width="3.3" stroke-linejoin="round" />
<polyline points="95.8,310.9 97.2,308.7 98.5,306.2 99.9,303.9 101.2,303.0 102.6,299.0 104.0,297.8 105.3,294.9 106.7,293.5 108.0,290.6 109.4,288.5 110.8,285.1 112.1,282.7 113.5,280.5 114.8,278.0 116.2,275.1 117.5,273.0 118.9,270.1 120.3,267.5 121.6,264.2 123.0,261.9 124.3,259.9 125.7,256.8 127.1,254.4 128.4,251.8 129.8,250.5 131.1,248.1 132.5,245.4 133.9,244.4 135.2,242.5 136.6,240.1 137.9,238.5 139.3,236.1 140.7,234.1 142.0,231.8 143.4,228.8 144.7,226.9 146.1,224.7 147.4,221.9 148.8,219.3 150.2,216.6 151.5,213.8 152.9,210.9 154.2,209.5 155.6,206.5 157.0,204.4 158.3,200.7 159.7,197.8 161.0,195.4 162.4,192.5 163.8,189.6 165.1,186.9 166.5,183.1 167.8,179.7 169.2,178.2 170.6,174.3 171.9,172.4 173.3,170.3 174.6,166.9 176.0,164.1 177.4,161.6 178.7,159.2 180.1,155.8 181.4,154.1 182.8,151.3 184.1,148.9 185.5,147.4 186.9,145.8 188.2,143.9 189.6,141.8 190.9,140.0 192.3,139.4 193.7,137.6 195.0,135.3 196.4,135.5 197.7,133.5 199.1,132.7 200.5,131.8 201.8,132.2 203.2,131.0 204.5,131.4 205.9,129.9 207.3,130.7 208.6,130.2 210.0,130.9 211.3,130.8 212.7,131.8 214.1,131.5 215.4,131.8 216.8,132.6 218.1,132.6 219.5,134.0 220.8,134.9 222.2,136.3 223.6,137.1 224.9,139.6 226.3,140.9 227.6,142.3 229.0,143.4 230.4,145.0 231.7,146.0 233.1,147.6 234.4,149.4 235.8,151.0 237.2,152.9 238.5,156.5 239.9,157.8 241.2,161.7 242.6,164.9 244.0,168.1 245.3,171.8 246.7,175.7 248.0,178.6 249.4,181.4 250.7,185.1 252.1,188.6 253.5,193.1 254.8,196.7 256.2,200.0 257.5,203.7 258.9,208.4 260.3,213.1 261.6,217.9 263.0,220.7 264.3,225.8 265.7,228.4 267.1,231.3 268.4,233.2 269.8,237.3 271.1,240.1 272.5,242.4 273.9,244.8 275.2,246.7 276.6,249.1 277.9,251.7 279.3,254.2 280.7,254.9 282.0,257.0 283.4,257.7 284.7,260.3 286.1,261.0 287.4,262.7 288.8,264.0 290.2,264.2 291.5,266.0 292.9,267.3 294.2,268.0 295.6,269.7 297.0,270.5 298.3,271.6 299.7,271.5 301.0,273.2 302.4,274.0 303.8,274.8 305.1,276.3 306.5,277.3 307.8,279.0 309.2,279.2 310.6,280.3 311.9,281.7 313.3,282.1 314.6,284.4 316.0,284.6 317.3,286.5 318.7,287.5 320.1,288.2 321.4,288.7 322.8,290.9 324.1,292.0 325.5,293.3 326.9,293.2 328.2,295.0 329.6,296.2 330.9,296.5 332.3,298.3 333.7,300.3 335.0,300.6 336.4,301.9 337.7,301.5 339.1,303.9 340.5,304.0 341.8,305.3 343.2,306.1 344.5,306.8 345.9,307.7 347.3,308.8 348.6,309.9 350.0,310.4 351.3,311.4 352.7,312.1 354.0,312.4 355.4,313.3 356.8,313.8 358.1,314.9 359.5,314.7 360.8,316.6 362.2,317.5 363.6,317.4 364.9,318.9 366.3,319.3 367.6,319.7 369.0,320.9 370.4,321.8 371.7,322.0 373.1,323.1 374.4,324.3 375.8,325.4 377.2,325.8 378.5,327.2 379.9,327.8 381.2,328.7 382.6,329.0 384.0,329.7 385.3,331.2 386.7,332.0 388.0,333.2 389.4,334.2 390.7,334.6 392.1,335.1 393.5,335.9 394.8,336.7 396.2,337.9 397.5,339.7 398.9,338.9 400.3,339.5 401.6,340.3 403.0,341.0 404.3,341.6 405.7,341.5 407.1,343.1 408.4,343.2 409.8,344.1 411.1,344.8 412.5,345.7 413.9,346.4 415.2,347.3 416.6,347.1 417.9,348.0 419.3,348.9 420.6,349.3 422.0,350.0 423.4,349.3 424.7,350.5 426.1,350.8 427.4,351.8 428.8,352.1 430.2,351.6 431.5,352.5 432.9,352.6 434.2,352.3 435.6,352.5 437.0,353.4 438.3,353.8 439.7,354.2 441.0,354.8 442.4,354.1 443.8,355.7 445.1,355.5 446.5,356.6 447.8,356.6 449.2,356.1 450.6,356.3 451.9,356.6 453.3,357.1 454.6,357.4 456.0,357.6 457.3,357.7 458.7,357.2 460.1,357.2 461.4,357.7 462.8,358.2 464.1,358.5 465.5,358.1 466.9,358.4 468.2,359.2 469.6,358.0 470.9,358.6 472.3,358.8 473.7,359.2 475.0,359.2 476.4,358.6 477.7,359.4 479.1,359.1 480.5,358.9 481.8,358.4 483.2,359.0 484.5,359.4 485.9,359.6 487.2,359.1 488.6,359.1 490.0,359.7 491.3,359.3 492.7,359.7 494.0,360.3 495.4,360.1 496.8,359.4 498.1,359.1 499.5,359.5 500.8,359.9 502.2,360.2 503.6,359.7 504.9,359.8 506.3,360.5 507.6,359.7 509.0,360.3 510.4,359.8 511.7,359.9 513.1,359.8 514.4,359.7 515.8,359.9 517.2,360.5 518.5,360.5 519.9,359.8 521.2,360.0 522.6,360.5 523.9,360.5 525.3,359.9 526.7,359.4 528.0,360.0 529.4,360.4 530.7,360.2 532.1,360.5 533.5,360.5 534.8,360.0 536.2,360.0 537.5,360.5 538.9,359.9 540.3,360.2 541.6,360.0 543.0,360.5 544.3,360.4 545.7,360.5 547.1,360.3 548.4,360.0 549.8,360.5 551.1,360.3 552.5,360.5 553.9,360.0 555.2,360.0 556.6,360.5 557.9,360.3 559.3,360.0 560.6,360.5 562.0,360.5 563.4,360.5 564.7,360.5 566.1,360.5 567.4,359.8 568.8,360.3 570.2,359.8 571.5,360.0 572.9,360.0 574.2,360.4 575.6,360.1 577.0,359.6 578.3,359.9 579.7,360.3 581.0,360.5 582.4,360.5 583.8,360.4 585.1,360.3 586.5,360.5 587.8,360.4 589.2,360.3 590.5,360.4 591.9,360.5 593.3,359.5 594.6,360.1 596.0,360.5 597.3,360.5 598.7,360.2 600.1,360.3 601.4,360.4 602.8,360.5 604.1,360.5 605.5,360.5" fill="none" stroke="#006400" stroke-width="3.3" stroke-linejoin="round" />
<polyline points="95.8,312.6 97.2,309.8 98.5,309.0 99.9,306.0 101.2,302.9 102.6,301.5 104.0,299.4 105.3,295.7 106.7,293.7 108.0,291.8 109.4,289.6 110.8,287.0 112.1,284.6 113.5,282.0 114.8,279.6 116.2,276.4 117.5,274.2 118.9,272.0 120.3,269.0 121.6,265.7 123.0,263.5 124.3,261.5 125.7,257.4 127.1,255.4 128.4,253.5 129.8,251.3 131.1,248.7 132.5,246.3 133.9,245.1 135.2,242.6 136.6,240.9 137.9,238.3 139.3,236.6 140.7,234.5 142.0,231.2 143.4,228.7 144.7,225.8 146.1,223.8 147.4,220.2 148.8,218.1 150.2,214.7 151.5,212.8 152.9,209.2 154.2,207.0 155.6,204.1 157.0,200.8 158.3,198.9 159.7,195.5 161.0,191.2 162.4,189.4 163.8,185.8 165.1,182.2 166.5,178.7 167.8,176.4 169.2,173.1 170.6,170.7 171.9,167.5 173.3,164.1 174.6,161.6 176.0,158.8 177.4,155.8 178.7,153.0 180.1,150.2 181.4,147.7 182.8,145.3 184.1,142.1 185.5,140.5 186.9,137.5 188.2,135.0 189.6,133.6 190.9,131.6 192.3,131.4 193.7,129.4 195.0,128.4 196.4,127.1 197.7,126.3 199.1,125.2 200.5,123.5 201.8,123.1 203.2,122.4 204.5,121.9 205.9,121.8 207.3,122.3 208.6,122.0 210.0,121.8 211.3,121.9 212.7,122.9 214.1,123.4 215.4,123.8 216.8,123.4 218.1,124.6 219.5,125.9 220.8,127.2 222.2,128.0 223.6,130.3 224.9,131.2 226.3,132.8 227.6,134.4 229.0,135.6 230.4,136.9 231.7,137.2 233.1,139.8 234.4,141.1 235.8,143.5 237.2,146.0 238.5,147.5 239.9,150.1 241.2,154.6 242.6,157.6 244.0,160.7 245.3,164.7 246.7,169.4 248.0,171.5 249.4,175.6 250.7,178.9 252.1,183.4 253.5,186.5 254.8,190.4 256.2,195.1 257.5,198.7 258.9,203.4 260.3,207.9 261.6,212.6 263.0,216.8 264.3,221.0 265.7,223.8 267.1,227.6 268.4,231.1 269.8,233.0 271.1,236.1 272.5,238.6 273.9,241.6 275.2,243.7 276.6,246.3 277.9,248.8 279.3,250.3 280.7,252.2 282.0,253.9 283.4,255.3 284.7,257.9 286.1,258.5 287.4,260.4 288.8,261.5 290.2,262.6 291.5,264.0 292.9,265.5 294.2,266.1 295.6,267.6 297.0,268.3 298.3,269.2 299.7,270.9 301.0,272.3 302.4,272.8 303.8,273.6 305.1,274.8 306.5,276.6 307.8,277.9 309.2,278.7 310.6,279.9 311.9,280.4 313.3,281.7 314.6,282.6 316.0,284.1 317.3,284.6 318.7,286.5 320.1,287.4 321.4,289.0 322.8,289.9 324.1,290.8 325.5,292.2 326.9,293.3 328.2,295.4 329.6,296.1 330.9,296.7 332.3,298.4 333.7,299.6 335.0,300.7 336.4,301.8 337.7,302.5 339.1,303.0 340.5,304.3 341.8,305.4 343.2,306.7 344.5,307.7 345.9,307.1 347.3,309.2 348.6,309.8 350.0,310.9 351.3,311.4 352.7,312.5 354.0,313.0 355.4,313.3 356.8,315.0 358.1,315.2 359.5,316.2 360.8,316.7 362.2,318.0 363.6,318.4 364.9,319.7 366.3,320.8 367.6,321.4 369.0,322.0 370.4,322.9 371.7,323.3 373.1,323.5 374.4,325.2 375.8,325.4 377.2,326.4 378.5,327.6 379.9,328.5 381.2,328.8 382.6,329.7 384.0,330.9 385.3,331.7 386.7,332.6 388.0,334.0 389.4,334.3 390.7,335.1 392.1,335.3 393.5,337.4 394.8,338.1 396.2,338.5 397.5,339.5 398.9,340.2 400.3,340.7 401.6,341.5 403.0,342.1 404.3,342.5 405.7,344.0 407.1,343.7 408.4,345.4 409.8,344.4 411.1,345.3 412.5,346.5 413.9,346.4 415.2,347.4 416.6,347.7 417.9,348.1 419.3,348.8 420.6,349.5 422.0,349.7 423.4,350.5 424.7,351.0 426.1,351.7 427.4,352.4 428.8,351.4 430.2,352.1 431.5,353.4 432.9,353.0 434.2,353.4 435.6,354.7 437.0,354.4 438.3,354.4 439.7,354.0 441.0,354.5 442.4,354.7 443.8,355.4 445.1,355.4 446.5,356.5 447.8,356.0 449.2,356.2 450.6,357.3 451.9,356.9 453.3,356.6 454.6,356.6 456.0,357.0 457.3,358.0 458.7,357.9 460.1,358.2 461.4,357.6 462.8,358.5 464.1,358.7 465.5,359.1 466.9,358.4 468.2,358.4 469.6,358.9 470.9,359.1 472.3,358.9 473.7,358.4 475.0,359.6 476.4,359.1 477.7,359.1 479.1,359.1 480.5,358.8 481.8,359.0 483.2,359.3 484.5,358.8 485.9,359.0 487.2,359.4 488.6,359.5 490.0,360.1 491.3,359.6 492.7,360.0 494.0,360.2 495.4,359.9 496.8,360.5 498.1,360.2 499.5,360.1 500.8,359.8 502.2,360.1 503.6,359.8 504.9,359.3 506.3,359.7 507.6,360.5 509.0,360.5 510.4,360.5 511.7,360.5 513.1,360.5 514.4,360.5 515.8,360.5 517.2,360.5 518.5,359.7 519.9,359.6 521.2,360.5 522.6,360.5 523.9,360.5 525.3,360.5 526.7,360.4 528.0,360.4 529.4,360.5 530.7,360.2 532.1,360.5 533.5,360.0 534.8,360.5 536.2,360.1 537.5,360.5 538.9,360.4 540.3,360.2 541.6,360.5 543.0,360.5 544.3,360.5 545.7,360.5 547.1,360.4 548.4,360.5 549.8,360.5 551.1,360.5 552.5,360.4 553.9,360.5 555.2,360.0 556.6,360.2 557.9,360.2 559.3,360.2 560.6,360.5 562.0,359.6 563.4,360.5 564.7,360.3 566.1,360.2 567.4,360.4 568.8,360.4 570.2,360.5 571.5,360.5 572.9,360.5 574.2,360.0 575.6,360.5 577.0,360.2 578.3,360.3 579.7,360.4 581.0,360.5 582.4,360.5 583.8,360.5 585.1,360.4 586.5,360.3 587.8,360.5 589.2,360.3 590.5,360.3 591.9,360.5 593.3,360.1 594.6,360.5 596.0,359.5 597.3,360.5 598.7,360.5 600.1,360.5 601.4,360.4 602.8,360.0 604.1,360.4 605.5,360.5" fill="none" stroke="#6E6E6E" stroke-width="3.3" stroke-linejoin="round" />
<polyline points="95.8,312.7 97.2,310.9 98.5,309.3 99.9,307.1 101.2,305.5 102.6,302.6 104.0,299.6 105.3,298.5 106.7,296.2 108.0,293.2 109.4,291.9 110.8,287.9 112.1,286.6 113.5,283.8 114.8,280.9 116.2,277.7 117.5,275.3 118.9,273.4 120.3,270.6 121.6,267.0 123.0,265.2 124.3,261.8 125.7,259.4 127.1,256.3 128.4,253.8 129.8,253.0 131.1,249.6 132.5,247.3 133.9,245.7 135.2,243.4 136.6,241.4 137.9,238.7 139.3,235.9 140.7,233.0 142.0,230.3 143.4,228.3 144.7,225.7 146.1,222.1 147.4,220.8 148.8,217.3 150.2,213.5 151.5,209.9 152.9,208.0 154.2,204.6 155.6,202.0 157.0,198.3 158.3,195.0 159.7,191.9 161.0,188.1 162.4,184.9 163.8,181.1 165.1,178.0 166.5,175.0 167.8,171.1 169.2,167.5 170.6,165.0 171.9,161.0 173.3,158.3 174.6,155.5 176.0,152.2 177.4,149.3 178.7,146.4 180.1,142.6 181.4,139.6 182.8,137.3 184.1,134.5 185.5,132.0 186.9,129.3 188.2,126.9 189.6,125.8 190.9,123.7 192.3,122.1 193.7,120.2 195.0,118.3 196.4,117.8 197.7,117.1 199.1,115.2 200.5,115.0 201.8,113.1 203.2,113.5 204.5,112.8 205.9,112.2 207.3,112.1 208.6,112.3 210.0,112.3 211.3,112.2 212.7,113.0 214.1,112.6 215.4,113.7 216.8,115.3 218.1,114.7 219.5,116.7 220.8,117.0 222.2,117.6 223.6,119.5 224.9,122.0 226.3,123.5 227.6,124.7 229.0,125.7 230.4,128.1 231.7,128.8 233.1,130.6 234.4,132.3 235.8,134.2 237.2,135.7 238.5,139.8 239.9,142.7 241.2,145.3 242.6,148.8 244.0,153.5 245.3,157.2 246.7,161.0 248.0,164.0 249.4,168.3 250.7,171.3 252.1,175.6 253.5,179.9 254.8,184.1 256.2,188.1 257.5,192.2 258.9,197.1 260.3,201.8 261.6,206.3 263.0,211.3 264.3,215.1 265.7,219.4 267.1,223.1 268.4,225.9 269.8,228.5 271.1,231.5 272.5,235.6 273.9,237.5 275.2,240.4 276.6,242.8 277.9,245.0 279.3,247.1 280.7,249.2 282.0,251.0 283.4,252.5 284.7,254.8 286.1,256.4 287.4,257.9 288.8,259.3 290.2,260.0 291.5,262.1 292.9,263.0 294.2,264.3 295.6,265.2 297.0,266.7 298.3,267.4 299.7,269.0 301.0,270.0 302.4,270.9 303.8,273.0 305.1,273.4 306.5,274.1 307.8,275.9 309.2,277.2 310.6,277.6 311.9,279.6 313.3,280.3 314.6,283.1 316.0,283.3 317.3,284.8 318.7,285.7 320.1,286.7 321.4,288.5 322.8,289.8 324.1,292.2 325.5,292.0 326.9,293.2 328.2,295.0 329.6,296.5 330.9,297.4 332.3,298.2 333.7,299.5 335.0,300.0 336.4,302.1 337.7,303.5 339.1,303.8 340.5,304.4 341.8,306.1 343.2,306.9 344.5,308.1 345.9,309.2 347.3,309.9 348.6,311.3 350.0,311.3 351.3,312.0 352.7,312.7 354.0,314.2 355.4,314.9 356.8,316.1 358.1,316.9 359.5,316.7 360.8,316.7 362.2,319.0 363.6,319.5 364.9,319.8 366.3,321.2 367.6,321.5 369.0,322.6 370.4,323.4 371.7,323.7 373.1,324.9 374.4,326.2 375.8,326.1 377.2,327.3 378.5,328.4 379.9,329.4 381.2,329.7 382.6,331.1 384.0,331.6 385.3,332.2 386.7,333.5 388.0,333.9 389.4,335.8 390.7,335.8 392.1,336.7 393.5,337.0 394.8,338.5 396.2,339.0 397.5,340.2 398.9,341.3 400.3,341.9 401.6,342.5 403.0,342.6 404.3,343.8 405.7,344.1 407.1,344.3 408.4,344.8 409.8,345.5 411.1,345.8 412.5,347.4 413.9,347.7 415.2,347.9 416.6,348.1 417.9,348.9 419.3,349.9 420.6,350.1 422.0,351.2 423.4,350.6 424.7,352.1 426.1,351.7 427.4,351.8 428.8,352.2 430.2,353.6 431.5,353.2 432.9,353.7 434.2,354.0 435.6,353.5 437.0,354.4 438.3,355.4 439.7,355.5 441.0,355.1 442.4,355.5 443.8,356.4 445.1,356.8 446.5,356.6 447.8,356.8 449.2,356.5 450.6,357.3 451.9,357.0 453.3,357.0 454.6,358.3 456.0,358.1 457.3,357.3 458.7,358.3 460.1,358.2 461.4,358.0 462.8,358.8 464.1,358.7 465.5,359.3 466.9,358.5 468.2,359.0 469.6,359.1 470.9,360.0 472.3,358.7 473.7,358.9 475.0,359.5 476.4,358.8 477.7,360.3 479.1,359.4 480.5,360.1 481.8,358.4 483.2,360.5 484.5,360.1 485.9,360.0 487.2,359.4 488.6,359.4 490.0,359.6 491.3,359.9 492.7,359.0 494.0,360.2 495.4,359.8 496.8,359.2 498.1,360.5 499.5,360.3 500.8,359.6 502.2,359.9 503.6,360.5 504.9,360.1 506.3,359.4 507.6,360.3 509.0,359.9 510.4,360.2 511.7,360.5 513.1,359.6 514.4,359.9 515.8,359.8 517.2,360.4 518.5,360.3 519.9,360.3 521.2,360.2 522.6,360.5 523.9,360.5 525.3,359.9 526.7,360.5 528.0,360.5 529.4,360.5 530.7,360.5 532.1,360.5 533.5,360.5 534.8,360.2 536.2,360.5 537.5,360.5 538.9,359.8 540.3,360.5 541.6,360.1 543.0,360.4 544.3,360.5 545.7,360.5 547.1,360.5 548.4,360.0 549.8,360.1 551.1,360.5 552.5,360.5 553.9,360.5 555.2,360.5 556.6,360.5 557.9,360.5 559.3,360.5 560.6,360.4 562.0,360.1 563.4,360.5 564.7,360.3 566.1,360.5 567.4,360.1 568.8,360.2 570.2,359.9 571.5,360.0 572.9,360.5 574.2,360.5 575.6,360.3 577.0,360.1 578.3,360.5 579.7,359.9 581.0,360.5 582.4,360.5 583.8,360.4 585.1,360.5 586.5,360.5 587.8,360.5 589.2,360.5 590.5,360.5 591.9,360.5 593.3,360.5 594.6,360.5 596.0,360.3 597.3,360.5 598.7,360.5 600.1,360.5 601.4,360.5 602.8,360.1 604.1,360.1 605.5,360.5" fill="none" stroke="#990000" stroke-width="3.3" stroke-linejoin="round" />
<polyline points="95.8,314.5 97.2,311.7 98.5,309.7 99.9,308.0 101.2,305.5 102.6,303.5 104.0,301.5 105.3,298.8 106.7,296.9 108.0,294.1 109.4,292.0 110.8,289.7 112.1,287.3 113.5,284.3 114.8,281.5 116.2,279.0 117.5,276.8 118.9,273.4 120.3,271.2 121.6,268.5 123.0,265.3 124.3,262.2 125.7,259.6 127.1,257.1 128.4,254.4 129.8,252.2 131.1,250.4 132.5,247.7 133.9,245.9 135.2,243.3 136.6,240.9 137.9,238.7 139.3,236.7 140.7,233.5 142.0,230.8 143.4,227.9 144.7,225.1 146.1,222.4 147.4,219.7 148.8,215.7 150.2,212.5 151.5,209.5 152.9,206.5 154.2,202.4 155.6,199.7 157.0,196.6 158.3,192.8 159.7,189.6 161.0,185.8 162.4,182.3 163.8,178.6 165.1,175.2 166.5,171.8 167.8,167.9 169.2,164.2 170.6,161.7 171.9,158.3 173.3,155.3 174.6,151.3 176.0,148.4 177.4,144.7 178.7,142.1 180.1,138.3 181.4,135.8 182.8,132.7 184.1,129.5 185.5,127.2 186.9,124.8 188.2,122.0 189.6,120.4 190.9,118.0 192.3,115.7 193.7,115.2 195.0,113.5 196.4,112.5 197.7,111.1 199.1,109.3 200.5,108.5 201.8,107.9 203.2,107.2 204.5,107.3 205.9,107.2 207.3,105.9 208.6,106.2 210.0,106.0 211.3,106.7 212.7,106.7 214.1,107.7 215.4,107.9 216.8,108.5 218.1,109.0 219.5,109.6 220.8,111.1 222.2,113.9 223.6,114.3 224.9,115.8 226.3,117.2 227.6,119.1 229.0,121.0 230.4,122.6 231.7,123.9 233.1,125.5 234.4,126.3 235.8,128.5 237.2,131.1 238.5,133.5 239.9,136.2 241.2,140.6 242.6,144.3 244.0,148.2 245.3,152.5 246.7,156.1 248.0,160.1 249.4,163.4 250.7,167.4 252.1,171.3 253.5,176.2 254.8,179.7 256.2,184.8 257.5,188.9 258.9,193.0 260.3,197.9 261.6,202.9 263.0,207.2 264.3,212.1 265.7,216.5 267.1,220.0 268.4,223.6 269.8,226.4 271.1,229.9 272.5,232.8 273.9,235.7 275.2,238.6 276.6,239.5 277.9,242.4 279.3,245.8 280.7,246.9 282.0,249.2 283.4,251.7 284.7,252.7 286.1,254.1 287.4,255.6 288.8,256.9 290.2,259.1 291.5,260.3 292.9,261.4 294.2,262.8 295.6,264.1 297.0,265.5 298.3,266.2 299.7,268.4 301.0,269.7 302.4,269.5 303.8,271.3 305.1,272.2 306.5,273.8 307.8,275.3 309.2,276.6 310.6,277.6 311.9,279.2 313.3,280.3 314.6,281.6 316.0,282.5 317.3,283.9 318.7,284.8 320.1,287.1 321.4,288.1 322.8,289.1 324.1,290.7 325.5,293.2 326.9,293.5 328.2,295.0 329.6,296.5 330.9,297.7 332.3,299.0 333.7,299.4 335.0,300.7 336.4,302.0 337.7,302.7 339.1,303.8 340.5,305.5 341.8,306.6 343.2,307.6 344.5,307.8 345.9,309.0 347.3,309.5 348.6,310.6 350.0,311.8 351.3,313.1 352.7,313.5 354.0,313.4 355.4,315.4 356.8,316.2 358.1,316.8 359.5,316.9 360.8,318.3 362.2,319.5 363.6,320.1 364.9,320.7 366.3,321.3 367.6,321.7 369.0,321.9 370.4,323.2 371.7,324.3 373.1,325.3 374.4,326.5 375.8,326.7 377.2,327.3 378.5,328.3 379.9,329.6 381.2,330.1 382.6,331.4 384.0,332.2 385.3,333.1 386.7,333.9 388.0,334.8 389.4,335.3 390.7,336.5 392.1,337.4 393.5,337.8 394.8,338.8 396.2,339.4 397.5,340.9 398.9,340.8 400.3,342.0 401.6,343.1 403.0,343.4 404.3,344.4 405.7,344.9 407.1,345.3 408.4,345.3 409.8,346.8 411.1,346.7 412.5,347.5 413.9,347.3 415.2,348.3 416.6,348.7 417.9,348.9 419.3,350.4 420.6,350.5 422.0,351.4 423.4,351.6 424.7,351.6 426.1,352.2 427.4,352.3 428.8,353.0 430.2,353.5 431.5,353.6 432.9,354.2 434.2,354.6 435.6,355.1 437.0,354.8 438.3,354.9 439.7,355.8 441.0,355.8 442.4,356.8 443.8,356.6 445.1,356.3 446.5,357.1 447.8,356.7 449.2,357.2 450.6,357.1 451.9,357.7 453.3,358.2 454.6,357.9 456.0,357.7 457.3,358.4 458.7,358.1 460.1,358.7 461.4,358.6 462.8,358.1 464.1,358.7 465.5,359.2 466.9,358.7 468.2,358.9 469.6,359.2 470.9,358.8 472.3,360.3 473.7,359.0 475.0,358.6 476.4,359.3 477.7,360.2 479.1,359.0 480.5,358.6 481.8,359.4 483.2,360.1 484.5,360.0 485.9,359.8 487.2,359.7 488.6,359.3 490.0,359.6 491.3,360.5 492.7,360.0 494.0,360.0 495.4,359.2 496.8,360.2 498.1,360.5 499.5,360.2 500.8,360.0 502.2,360.5 503.6,359.7 504.9,360.2 506.3,359.9 507.6,359.9 509.0,360.0 510.4,359.7 511.7,359.6 513.1,360.5 514.4,360.3 515.8,359.9 517.2,360.3 518.5,360.5 519.9,360.4 521.2,360.5 522.6,360.5 523.9,360.5 525.3,360.4 526.7,359.7 528.0,360.2 529.4,360.2 530.7,360.4 532.1,360.5 533.5,360.3 534.8,360.5 536.2,360.5 537.5,360.4 538.9,360.5 540.3,360.5 541.6,360.2 543.0,360.1 544.3,360.4 545.7,360.2 547.1,360.4 548.4,360.5 549.8,360.5 551.1,360.5 552.5,360.5 553.9,360.3 555.2,360.5 556.6,360.5 557.9,360.5 559.3,360.5 560.6,360.5 562.0,360.5 563.4,360.5 564.7,360.5 566.1,360.4 567.4,360.3 568.8,360.5 570.2,360.5 571.5,360.5 572.9,360.5 574.2,360.5 575.6,360.5 577.0,359.4 578.3,360.1 579.7,360.5 581.0,360.3 582.4,360.3 583.8,360.0 585.1,359.9 586.5,360.5 587.8,359.6 589.2,360.5 590.5,360.5 591.9,360.5 593.3,360.5 594.6,360.5 596.0,359.7 597.3,359.9 598.7,360.5 600.1,360.5 601.4,359.9 602.8,360.5 604.1,360.3 605.5,359.7" fill="none" stroke="#17869E" stroke-width="3.3" stroke-linejoin="round" />
<line x1="213.4" y1="78.5" x2="213.4" y2="297.0" stroke="#000" stroke-width="2.6" stroke-linecap="butt" stroke-dasharray="2.4 2.4"/>
<polygon points="213.4,60.9 220.4,75.4 206.3,75.4" fill="#000"/>
<line x1="95.8" y1="18.8" x2="95.8" y2="362.3" stroke="#000" stroke-width="3.6" stroke-linecap="butt" />
<line x1="94.0" y1="360.5" x2="607.4" y2="360.5" stroke="#000" stroke-width="3.6" stroke-linecap="butt" />
<line x1="85.0" y1="360.5" x2="95.8" y2="360.5" stroke="#000" stroke-width="3.6" stroke-linecap="butt" />
<text x="83.8" y="371.7" font-size="34.2" text-anchor="end" >0.0</text>
<line x1="85.0" y1="292.5" x2="95.8" y2="292.5" stroke="#000" stroke-width="3.6" stroke-linecap="butt" />
<text x="83.8" y="303.7" font-size="34.2" text-anchor="end" >0.2</text>
<line x1="85.0" y1="224.5" x2="95.8" y2="224.5" stroke="#000" stroke-width="3.6" stroke-linecap="butt" />
<text x="83.8" y="235.7" font-size="34.2" text-anchor="end" >0.4</text>
<line x1="85.0" y1="156.6" x2="95.8" y2="156.6" stroke="#000" stroke-width="3.6" stroke-linecap="butt" />
<text x="83.8" y="167.8" font-size="34.2" text-anchor="end" >0.6</text>
<line x1="85.0" y1="88.6" x2="95.8" y2="88.6" stroke="#000" stroke-width="3.6" stroke-linecap="butt" />
<text x="83.8" y="99.8" font-size="34.2" text-anchor="end" >0.8</text>
<line x1="85.0" y1="20.6" x2="95.8" y2="20.6" stroke="#000" stroke-width="3.6" stroke-linecap="butt" />
<text x="83.8" y="31.8" font-size="34.2" text-anchor="end" >1.0</text>
<line x1="95.8" y1="360.5" x2="95.8" y2="371.0" stroke="#000" stroke-width="3.6" stroke-linecap="butt" />
<text x="95.8" y="403.2" font-size="34.2" text-anchor="middle" >300</text>
<line x1="265.7" y1="360.5" x2="265.7" y2="371.0" stroke="#000" stroke-width="3.6" stroke-linecap="butt" />
<text x="265.7" y="403.2" font-size="34.2" text-anchor="middle" >400</text>
<line x1="435.6" y1="360.5" x2="435.6" y2="371.0" stroke="#000" stroke-width="3.6" stroke-linecap="butt" />
<text x="435.6" y="403.2" font-size="34.2" text-anchor="middle" >500</text>
<line x1="605.5" y1="360.5" x2="605.5" y2="371.0" stroke="#000" stroke-width="3.6" stroke-linecap="butt" />
<text x="605.5" y="403.2" font-size="34.2" text-anchor="middle" >600</text>
<text x="351.6" y="446.5" font-size="32.4" text-anchor="middle" >Wavelenght (nm)</text>
<text x="24.9" y="186.1" font-size="33.5" text-anchor="middle" transform="rotate(-90 24.9 186.1)">OD</text>
<text x="0.3" y="31.0" font-size="43" text-anchor="start" font-weight="bold" >a</text>
<line x1="372.0" y1="50.6" x2="372.0" y2="200.6" stroke="#000" stroke-width="1.6" stroke-linecap="butt" />
<line x1="371.2" y1="199.8" x2="595.6" y2="199.8" stroke="#000" stroke-width="1.6" stroke-linecap="butt" />
<line x1="367.0" y1="199.8" x2="372.0" y2="199.8" stroke="#000" stroke-width="1.6" stroke-linecap="butt" />
<text x="366.2" y="207.4" font-size="21" text-anchor="end" >0.00</text>
<line x1="367.0" y1="125.6" x2="372.0" y2="125.6" stroke="#000" stroke-width="1.6" stroke-linecap="butt" />
<text x="366.2" y="133.2" font-size="21" text-anchor="end" >0.25</text>
<line x1="367.0" y1="51.4" x2="372.0" y2="51.4" stroke="#000" stroke-width="1.6" stroke-linecap="butt" />
<text x="366.2" y="59.0" font-size="21" text-anchor="end" >0.50</text>
<line x1="372.0" y1="199.8" x2="372.0" y2="205.0" stroke="#000" stroke-width="1.6" stroke-linecap="butt" />
<text x="372.0" y="225.2" font-size="21" text-anchor="middle" >0.0</text>
<line x1="427.7" y1="199.8" x2="427.7" y2="205.0" stroke="#000" stroke-width="1.6" stroke-linecap="butt" />
<text x="427.7" y="225.2" font-size="21" text-anchor="middle" >0.5</text>
<line x1="483.4" y1="199.8" x2="483.4" y2="205.0" stroke="#000" stroke-width="1.6" stroke-linecap="butt" />
<text x="483.4" y="225.2" font-size="21" text-anchor="middle" >1.0</text>
<line x1="539.1" y1="199.8" x2="539.1" y2="205.0" stroke="#000" stroke-width="1.6" stroke-linecap="butt" />
<text x="539.1" y="225.2" font-size="21" text-anchor="middle" >1.5</text>
<line x1="594.8" y1="199.8" x2="594.8" y2="205.0" stroke="#000" stroke-width="1.6" stroke-linecap="butt" />
<text x="594.8" y="225.2" font-size="21" text-anchor="middle" >2.0</text>
<text x="483.5" y="246.3" font-size="21" text-anchor="middle" >Dose (Gy)</text>
<text x="318.6" y="120.0" font-size="21" text-anchor="middle" transform="rotate(-90 318.4 120)">Ln [(A0-Ainf)/(At-Ainf)]</text>
<line x1="372.0" y1="194.6" x2="594.8" y2="67.3" stroke="#000" stroke-width="1.6" stroke-linecap="butt" />
<line x1="427.7" y1="152.6" x2="427.7" y2="165.7" stroke="#000" stroke-width="1.6" stroke-linecap="butt" />
<line x1="423.7" y1="152.6" x2="431.7" y2="152.6" stroke="#000" stroke-width="1.6" stroke-linecap="butt" />
<line x1="423.7" y1="165.7" x2="431.7" y2="165.7" stroke="#000" stroke-width="1.6" stroke-linecap="butt" />
<rect x="424.9" y="156.3" width="5.6" height="5.6" fill="#000"/>
<line x1="483.4" y1="116.1" x2="483.4" y2="136.3" stroke="#000" stroke-width="1.6" stroke-linecap="butt" />
<line x1="479.4" y1="116.1" x2="487.4" y2="116.1" stroke="#000" stroke-width="1.6" stroke-linecap="butt" />
<line x1="479.4" y1="136.3" x2="487.4" y2="136.3" stroke="#000" stroke-width="1.6" stroke-linecap="butt" />
<rect x="480.6" y="123.4" width="5.6" height="5.6" fill="#000"/>
<line x1="539.1" y1="82.3" x2="539.1" y2="110.2" stroke="#000" stroke-width="1.6" stroke-linecap="butt" />
<line x1="535.1" y1="82.3" x2="543.1" y2="82.3" stroke="#000" stroke-width="1.6" stroke-linecap="butt" />
<line x1="535.1" y1="110.2" x2="543.1" y2="110.2" stroke="#000" stroke-width="1.6" stroke-linecap="butt" />
<rect x="536.3" y="93.4" width="5.6" height="5.6" fill="#000"/>
<line x1="594.8" y1="54.7" x2="594.8" y2="89.1" stroke="#000" stroke-width="1.6" stroke-linecap="butt" />
<line x1="590.8" y1="54.7" x2="598.8" y2="54.7" stroke="#000" stroke-width="1.6" stroke-linecap="butt" />
<line x1="590.8" y1="89.1" x2="598.8" y2="89.1" stroke="#000" stroke-width="1.6" stroke-linecap="butt" />
<rect x="592.0" y="69.1" width="5.6" height="5.6" fill="#000"/>
<rect x="369.2" y="197.0" width="5.6" height="5.6" fill="#000"/>
</g>
<polygon points="855.2,239.1 862.2,225.1 848.2,225.1" fill="#FF0000"/>
<polygon points="876.2,248.1 883.2,234.1 869.2,234.1" fill="#FF0000"/>
<polygon points="897.2,233.6 904.2,219.6 890.2,219.6" fill="#FF0000"/>
<line x1="833.2" y1="233.4" x2="919.2" y2="233.4" stroke="#FF0000" stroke-width="3.5" stroke-linecap="round" />
<line x1="876.2" y1="225.6" x2="876.2" y2="241.3" stroke="#FF0000" stroke-width="4.6" stroke-linecap="butt" />
<line x1="854.0" y1="225.6" x2="898.4" y2="225.6" stroke="#FF0000" stroke-width="4.6" stroke-linecap="round" />
<line x1="854.0" y1="241.3" x2="898.4" y2="241.3" stroke="#FF0000" stroke-width="4.6" stroke-linecap="round" />
<polygon points="845.2,331.9 852.2,345.9 838.2,345.9" fill="#BFBF00"/>
<polygon points="871.2,325.9 878.2,339.9 864.2,339.9" fill="#BFBF00"/>
<polygon points="906.2,335.3 913.2,349.3 899.2,349.3" fill="#BFBF00"/>
<line x1="833.2" y1="338.0" x2="919.2" y2="338.0" stroke="#BFBF00" stroke-width="3.5" stroke-linecap="round" />
<line x1="876.2" y1="333.4" x2="876.2" y2="342.7" stroke="#BFBF00" stroke-width="4.6" stroke-linecap="butt" />
<line x1="854.0" y1="333.4" x2="898.4" y2="333.4" stroke="#BFBF00" stroke-width="4.6" stroke-linecap="round" />
<line x1="854.0" y1="342.7" x2="898.4" y2="342.7" stroke="#BFBF00" stroke-width="4.6" stroke-linecap="round" />
<rect x="869.2" y="349.3" width="14.0" height="14.0" fill="#0000FF"/>
<rect x="845.2" y="338.7" width="14.0" height="14.0" fill="#0000FF"/>
<rect x="879.2" y="334.4" width="14.0" height="14.0" fill="#0000FF"/>
<line x1="833.2" y1="347.8" x2="919.2" y2="347.8" stroke="#0000FF" stroke-width="3.5" stroke-linecap="round" />
<line x1="876.2" y1="341.4" x2="876.2" y2="354.2" stroke="#0000FF" stroke-width="4.6" stroke-linecap="butt" />
<line x1="854.0" y1="341.4" x2="898.4" y2="341.4" stroke="#0000FF" stroke-width="4.6" stroke-linecap="round" />
<line x1="854.0" y1="354.2" x2="898.4" y2="354.2" stroke="#0000FF" stroke-width="4.6" stroke-linecap="round" />
<circle cx="881.2" cy="338.0" r="7.0" fill="#000000"/>
<circle cx="896.2" cy="351.6" r="7.0" fill="#000000"/>
<circle cx="884.2" cy="346.1" r="7.0" fill="#000000"/>
<line x1="833.2" y1="345.3" x2="919.2" y2="345.3" stroke="#000000" stroke-width="3.5" stroke-linecap="round" />
<line x1="876.2" y1="338.9" x2="876.2" y2="351.6" stroke="#000000" stroke-width="4.6" stroke-linecap="butt" />
<line x1="854.0" y1="338.9" x2="898.4" y2="338.9" stroke="#000000" stroke-width="4.6" stroke-linecap="round" />
<line x1="854.0" y1="351.6" x2="898.4" y2="351.6" stroke="#000000" stroke-width="4.6" stroke-linecap="round" />
<polygon points="983.5,164.5 990.5,150.5 976.5,150.5" fill="#FF0000"/>
<polygon points="1024.5,172.0 1031.5,158.0 1017.5,158.0" fill="#FF0000"/>
<polygon points="1003.5,179.6 1010.5,165.6 996.5,165.6" fill="#FF0000"/>
<line x1="960.5" y1="167.9" x2="1046.5" y2="167.9" stroke="#FF0000" stroke-width="3.5" stroke-linecap="round" />
<line x1="1003.5" y1="160.3" x2="1003.5" y2="175.6" stroke="#FF0000" stroke-width="4.6" stroke-linecap="butt" />
<line x1="981.3" y1="160.3" x2="1025.7" y2="160.3" stroke="#FF0000" stroke-width="4.6" stroke-linecap="round" />
<line x1="981.3" y1="175.6" x2="1025.7" y2="175.6" stroke="#FF0000" stroke-width="4.6" stroke-linecap="round" />
<polygon points="1023.5,298.3 1030.5,312.3 1016.5,312.3" fill="#BFBF00"/>
<polygon points="1013.5,321.3 1020.5,335.3 1006.5,335.3" fill="#BFBF00"/>
<polygon points="981.5,308.5 988.5,322.5 974.5,322.5" fill="#BFBF00"/>
<line x1="960.5" y1="316.3" x2="1046.5" y2="316.3" stroke="#BFBF00" stroke-width="3.5" stroke-linecap="round" />
<line x1="1003.5" y1="304.4" x2="1003.5" y2="328.3" stroke="#BFBF00" stroke-width="4.6" stroke-linecap="butt" />
<line x1="981.3" y1="304.4" x2="1025.7" y2="304.4" stroke="#BFBF00" stroke-width="4.6" stroke-linecap="round" />
<line x1="981.3" y1="328.3" x2="1025.7" y2="328.3" stroke="#BFBF00" stroke-width="4.6" stroke-linecap="round" />
<rect x="1027.5" y="312.8" width="14.0" height="14.0" fill="#0000FF"/>
<rect x="996.5" y="333.2" width="14.0" height="14.0" fill="#0000FF"/>
<rect x="986.5" y="315.7" width="14.0" height="14.0" fill="#0000FF"/>
<line x1="960.5" y1="327.8" x2="1046.5" y2="327.8" stroke="#0000FF" stroke-width="3.5" stroke-linecap="round" />
<line x1="1003.5" y1="317.6" x2="1003.5" y2="338.0" stroke="#0000FF" stroke-width="4.6" stroke-linecap="butt" />
<line x1="981.3" y1="317.6" x2="1025.7" y2="317.6" stroke="#0000FF" stroke-width="4.6" stroke-linecap="round" />
<line x1="981.3" y1="338.0" x2="1025.7" y2="338.0" stroke="#0000FF" stroke-width="4.6" stroke-linecap="round" />
<circle cx="983.5" cy="315.1" r="7.0" fill="#000000"/>
<circle cx="983.5" cy="329.5" r="7.0" fill="#000000"/>
<circle cx="1023.5" cy="337.2" r="7.0" fill="#000000"/>
<line x1="960.5" y1="327.8" x2="1046.5" y2="327.8" stroke="#000000" stroke-width="3.5" stroke-linecap="round" />
<line x1="1003.5" y1="316.8" x2="1003.5" y2="338.9" stroke="#000000" stroke-width="4.6" stroke-linecap="butt" />
<line x1="981.3" y1="316.8" x2="1025.7" y2="316.8" stroke="#000000" stroke-width="4.6" stroke-linecap="round" />
<line x1="981.3" y1="338.9" x2="1025.7" y2="338.9" stroke="#000000" stroke-width="4.6" stroke-linecap="round" />
<polygon points="1110.8,102.2 1117.8,88.2 1103.8,88.2" fill="#FF0000"/>
<polygon points="1130.8,120.5 1137.8,106.5 1123.8,106.5" fill="#FF0000"/>
<polygon points="1151.8,107.3 1158.8,93.3 1144.8,93.3" fill="#FF0000"/>
<line x1="1087.8" y1="105.0" x2="1173.8" y2="105.0" stroke="#FF0000" stroke-width="3.5" stroke-linecap="round" />
<line x1="1130.8" y1="96.5" x2="1130.8" y2="113.5" stroke="#FF0000" stroke-width="4.6" stroke-linecap="butt" />
<line x1="1108.6" y1="96.5" x2="1153.0" y2="96.5" stroke="#FF0000" stroke-width="4.6" stroke-linecap="round" />
<line x1="1108.6" y1="113.5" x2="1153.0" y2="113.5" stroke="#FF0000" stroke-width="4.6" stroke-linecap="round" />
<polygon points="1151.8,286.0 1158.8,300.0 1144.8,300.0" fill="#BFBF00"/>
<polygon points="1113.8,293.6 1120.8,307.6 1106.8,307.6" fill="#BFBF00"/>
<polygon points="1130.8,292.3 1137.8,306.3 1123.8,306.3" fill="#BFBF00"/>
<line x1="1087.8" y1="297.6" x2="1173.8" y2="297.6" stroke="#BFBF00" stroke-width="3.5" stroke-linecap="round" />
<line x1="1130.8" y1="292.1" x2="1130.8" y2="303.2" stroke="#BFBF00" stroke-width="4.6" stroke-linecap="butt" />
<line x1="1108.6" y1="292.1" x2="1153.0" y2="292.1" stroke="#BFBF00" stroke-width="4.6" stroke-linecap="round" />
<line x1="1108.6" y1="303.2" x2="1153.0" y2="303.2" stroke="#BFBF00" stroke-width="4.6" stroke-linecap="round" />
<rect x="1156.8" y="297.0" width="14.0" height="14.0" fill="#0000FF"/>
<rect x="1103.8" y="306.8" width="14.0" height="14.0" fill="#0000FF"/>
<rect x="1123.8" y="305.1" width="14.0" height="14.0" fill="#0000FF"/>
<line x1="1087.8" y1="311.2" x2="1173.8" y2="311.2" stroke="#0000FF" stroke-width="3.5" stroke-linecap="round" />
<line x1="1130.8" y1="306.1" x2="1130.8" y2="316.3" stroke="#0000FF" stroke-width="4.6" stroke-linecap="butt" />
<line x1="1108.6" y1="306.1" x2="1153.0" y2="306.1" stroke="#0000FF" stroke-width="4.6" stroke-linecap="round" />
<line x1="1108.6" y1="316.3" x2="1153.0" y2="316.3" stroke="#0000FF" stroke-width="4.6" stroke-linecap="round" />
<circle cx="1120.8" cy="306.6" r="7.0" fill="#000000"/>
<circle cx="1131.8" cy="324.0" r="7.0" fill="#000000"/>
<circle cx="1151.8" cy="321.5" r="7.0" fill="#000000"/>
<line x1="1087.8" y1="317.2" x2="1173.8" y2="317.2" stroke="#000000" stroke-width="3.5" stroke-linecap="round" />
<line x1="1130.8" y1="307.4" x2="1130.8" y2="327.0" stroke="#000000" stroke-width="4.6" stroke-linecap="butt" />
<line x1="1108.6" y1="307.4" x2="1153.0" y2="307.4" stroke="#000000" stroke-width="4.6" stroke-linecap="round" />
<line x1="1108.6" y1="327.0" x2="1153.0" y2="327.0" stroke="#000000" stroke-width="4.6" stroke-linecap="round" />
<polygon points="1278.1,69.9 1285.1,55.9 1271.1,55.9" fill="#FF0000"/>
<polygon points="1258.1,83.5 1265.1,69.5 1251.1,69.5" fill="#FF0000"/>
<polygon points="1240.1,75.9 1247.1,61.9 1233.1,61.9" fill="#FF0000"/>
<line x1="1215.1" y1="71.6" x2="1301.1" y2="71.6" stroke="#FF0000" stroke-width="3.5" stroke-linecap="round" />
<line x1="1258.1" y1="64.8" x2="1258.1" y2="78.4" stroke="#FF0000" stroke-width="4.6" stroke-linecap="butt" />
<line x1="1235.9" y1="64.8" x2="1280.3" y2="64.8" stroke="#FF0000" stroke-width="4.6" stroke-linecap="round" />
<line x1="1235.9" y1="78.4" x2="1280.3" y2="78.4" stroke="#FF0000" stroke-width="4.6" stroke-linecap="round" />
<polygon points="1259.1,253.6 1266.1,267.6 1252.1,267.6" fill="#BFBF00"/>
<polygon points="1247.1,271.1 1254.1,285.1 1240.1,285.1" fill="#BFBF00"/>
<polygon points="1270.1,273.2 1277.1,287.2 1263.1,287.2" fill="#BFBF00"/>
<line x1="1215.1" y1="273.0" x2="1301.1" y2="273.0" stroke="#BFBF00" stroke-width="3.5" stroke-linecap="round" />
<line x1="1258.1" y1="263.6" x2="1258.1" y2="282.3" stroke="#BFBF00" stroke-width="4.6" stroke-linecap="butt" />
<line x1="1235.9" y1="263.6" x2="1280.3" y2="263.6" stroke="#BFBF00" stroke-width="4.6" stroke-linecap="round" />
<line x1="1235.9" y1="282.3" x2="1280.3" y2="282.3" stroke="#BFBF00" stroke-width="4.6" stroke-linecap="round" />
<rect x="1231.1" y="291.9" width="14.0" height="14.0" fill="#0000FF"/>
<rect x="1263.1" y="286.8" width="14.0" height="14.0" fill="#0000FF"/>
<rect x="1251.1" y="281.7" width="14.0" height="14.0" fill="#0000FF"/>
<line x1="1215.1" y1="293.6" x2="1301.1" y2="293.6" stroke="#0000FF" stroke-width="3.5" stroke-linecap="round" />
<line x1="1258.1" y1="287.2" x2="1258.1" y2="300.0" stroke="#0000FF" stroke-width="4.6" stroke-linecap="butt" />
<line x1="1235.9" y1="287.2" x2="1280.3" y2="287.2" stroke="#0000FF" stroke-width="4.6" stroke-linecap="round" />
<line x1="1235.9" y1="300.0" x2="1280.3" y2="300.0" stroke="#0000FF" stroke-width="4.6" stroke-linecap="round" />
<circle cx="1278.1" cy="278.5" r="7.0" fill="#000000"/>
<circle cx="1278.1" cy="302.7" r="7.0" fill="#000000"/>
<circle cx="1258.1" cy="307.8" r="7.0" fill="#000000"/>
<line x1="1215.1" y1="296.8" x2="1301.1" y2="296.8" stroke="#000000" stroke-width="3.5" stroke-linecap="round" />
<line x1="1258.1" y1="281.1" x2="1258.1" y2="312.5" stroke="#000000" stroke-width="4.6" stroke-linecap="butt" />
<line x1="1235.9" y1="281.1" x2="1280.3" y2="281.1" stroke="#000000" stroke-width="4.6" stroke-linecap="round" />
<line x1="1235.9" y1="312.5" x2="1280.3" y2="312.5" stroke="#000000" stroke-width="4.6" stroke-linecap="round" />
<line x1="812.0" y1="19.0" x2="812.0" y2="362.8" stroke="#000" stroke-width="3.6" stroke-linecap="butt" />
<line x1="801.5" y1="361.0" x2="1324.8" y2="361.0" stroke="#000" stroke-width="3.6" stroke-linecap="butt" />
<line x1="801.5" y1="361.0" x2="812.0" y2="361.0" stroke="#000" stroke-width="3.6" stroke-linecap="butt" />
<text x="798.5" y="373.1" font-size="34.2" text-anchor="end" >0</text>
<line x1="801.5" y1="276.0" x2="812.0" y2="276.0" stroke="#000" stroke-width="3.6" stroke-linecap="butt" />
<text x="798.5" y="288.1" font-size="34.2" text-anchor="end" >20</text>
<line x1="801.5" y1="190.9" x2="812.0" y2="190.9" stroke="#000" stroke-width="3.6" stroke-linecap="butt" />
<text x="798.5" y="203.0" font-size="34.2" text-anchor="end" >40</text>
<line x1="801.5" y1="105.9" x2="812.0" y2="105.9" stroke="#000" stroke-width="3.6" stroke-linecap="butt" />
<text x="798.5" y="118.0" font-size="34.2" text-anchor="end" >60</text>
<line x1="801.5" y1="20.8" x2="812.0" y2="20.8" stroke="#000" stroke-width="3.6" stroke-linecap="butt" />
<text x="798.5" y="32.9" font-size="34.2" text-anchor="end" >80</text>
<line x1="876.2" y1="361.0" x2="876.2" y2="372.0" stroke="#000" stroke-width="3.6" stroke-linecap="butt" />
<text x="876.2" y="401.2" font-size="34.2" text-anchor="middle" >2</text>
<line x1="1003.5" y1="361.0" x2="1003.5" y2="372.0" stroke="#000" stroke-width="3.6" stroke-linecap="butt" />
<text x="1003.5" y="401.2" font-size="34.2" text-anchor="middle" >5</text>
<line x1="1130.8" y1="361.0" x2="1130.8" y2="372.0" stroke="#000" stroke-width="3.6" stroke-linecap="butt" />
<text x="1130.8" y="401.2" font-size="34.2" text-anchor="middle" >10</text>
<line x1="1258.1" y1="361.0" x2="1258.1" y2="372.0" stroke="#000" stroke-width="3.6" stroke-linecap="butt" />
<text x="1258.1" y="401.2" font-size="34.2" text-anchor="middle" >20</text>
<text x="876.6" y="219.8" font-size="32" text-anchor="middle" >***</text>
<text x="1006.0" y="210.8" font-size="32" text-anchor="middle" >***</text>
<text x="1133.4" y="90.8" font-size="32" text-anchor="middle" >***</text>
<text x="1260.7" y="57.2" font-size="32" text-anchor="middle" >***</text>
<circle cx="833.5" cy="18.5" r="6.9" fill="#000000"/>
<text x="872.0" y="27.6" font-size="24.5" text-anchor="start" >Azo NI</text>
<rect x="826.6" y="45.8" width="13.8" height="13.8" fill="#0000FF"/>
<text x="872.0" y="61.8" font-size="24.5" text-anchor="start" >GdAzo NI</text>
<polygon points="833.5,80.0 840.4,93.8 826.6,93.8" fill="#BFBF00"/>
<text x="872.0" y="96.0" font-size="24.5" text-anchor="start" >Azo XR</text>
<polygon points="833.5,128.0 840.4,114.2 826.6,114.2" fill="#FF0000"/>
<text x="872.0" y="130.2" font-size="24.5" text-anchor="start" >GdAzo XR</text>
<text x="1069.5" y="446.7" font-size="33.0" text-anchor="middle" >Dose (Gy)</text>
<text x="741.0" y="185.6" font-size="31.8" text-anchor="middle" transform="rotate(-90 741 185.6)">Molecular activation (%)</text>
<text x="679.8" y="30.6" font-size="43" text-anchor="start" font-weight="bold" >b</text>
<polygon points="140.0,680.9 147.0,666.9 133.0,666.9" fill="#FF0000"/>
<polygon points="180.0,680.9 187.0,666.9 173.0,666.9" fill="#FF0000"/>
<polygon points="160.0,690.3 167.0,676.3 153.0,676.3" fill="#FF0000"/>
<line x1="117.0" y1="678.6" x2="203.0" y2="678.6" stroke="#FF0000" stroke-width="3.5" stroke-linecap="round" />
<line x1="160.0" y1="673.7" x2="160.0" y2="683.5" stroke="#FF0000" stroke-width="4.6" stroke-linecap="butt" />
<line x1="137.8" y1="673.7" x2="182.2" y2="673.7" stroke="#FF0000" stroke-width="4.6" stroke-linecap="round" />
<line x1="137.8" y1="683.5" x2="182.2" y2="683.5" stroke="#FF0000" stroke-width="4.6" stroke-linecap="round" />
<polygon points="155.0,800.2 162.0,814.2 148.0,814.2" fill="#BFBF00"/>
<polygon points="160.0,823.1 167.0,837.1 153.0,837.1" fill="#BFBF00"/>
<polygon points="168.0,809.5 175.0,823.5 161.0,823.5" fill="#BFBF00"/>
<line x1="117.0" y1="817.8" x2="203.0" y2="817.8" stroke="#BFBF00" stroke-width="3.5" stroke-linecap="round" />
<line x1="160.0" y1="807.6" x2="160.0" y2="828.0" stroke="#BFBF00" stroke-width="4.6" stroke-linecap="butt" />
<line x1="137.8" y1="807.6" x2="182.2" y2="807.6" stroke="#BFBF00" stroke-width="4.6" stroke-linecap="round" />
<line x1="137.8" y1="828.0" x2="182.2" y2="828.0" stroke="#BFBF00" stroke-width="4.6" stroke-linecap="round" />
<rect x="122.0" y="804.4" width="14.0" height="14.0" fill="#0000FF"/>
<rect x="185.0" y="804.4" width="14.0" height="14.0" fill="#0000FF"/>
<rect x="131.0" y="815.3" width="14.0" height="14.0" fill="#0000FF"/>
<line x1="117.0" y1="816.3" x2="203.0" y2="816.3" stroke="#0000FF" stroke-width="3.5" stroke-linecap="round" />
<line x1="160.0" y1="810.8" x2="160.0" y2="821.8" stroke="#0000FF" stroke-width="4.6" stroke-linecap="butt" />
<line x1="137.8" y1="810.8" x2="182.2" y2="810.8" stroke="#0000FF" stroke-width="4.6" stroke-linecap="round" />
<line x1="137.8" y1="821.8" x2="182.2" y2="821.8" stroke="#0000FF" stroke-width="4.6" stroke-linecap="round" />
<circle cx="150.0" cy="817.4" r="7.0" fill="#000000"/>
<circle cx="165.0" cy="811.4" r="7.0" fill="#000000"/>
<circle cx="181.0" cy="827.2" r="7.0" fill="#000000"/>
<line x1="117.0" y1="818.8" x2="203.0" y2="818.8" stroke="#000000" stroke-width="3.5" stroke-linecap="round" />
<line x1="160.0" y1="811.6" x2="160.0" y2="826.1" stroke="#000000" stroke-width="4.6" stroke-linecap="butt" />
<line x1="137.8" y1="811.6" x2="182.2" y2="811.6" stroke="#000000" stroke-width="4.6" stroke-linecap="round" />
<line x1="137.8" y1="826.1" x2="182.2" y2="826.1" stroke="#000000" stroke-width="4.6" stroke-linecap="round" />
<polygon points="266.3,605.5 273.3,591.5 259.3,591.5" fill="#FF0000"/>
<polygon points="287.3,608.9 294.3,594.9 280.3,594.9" fill="#FF0000"/>
<polygon points="307.3,606.4 314.3,592.4 300.3,592.4" fill="#FF0000"/>
<line x1="244.3" y1="600.7" x2="330.3" y2="600.7" stroke="#FF0000" stroke-width="3.5" stroke-linecap="round" />
<line x1="287.3" y1="599.0" x2="287.3" y2="602.4" stroke="#FF0000" stroke-width="4.6" stroke-linecap="butt" />
<line x1="265.1" y1="599.0" x2="309.5" y2="599.0" stroke="#FF0000" stroke-width="4.6" stroke-linecap="round" />
<line x1="265.1" y1="602.4" x2="309.5" y2="602.4" stroke="#FF0000" stroke-width="4.6" stroke-linecap="round" />
<polygon points="287.3,772.1 294.3,786.1 280.3,786.1" fill="#BFBF00"/>
<polygon points="258.3,792.1 265.3,806.1 251.3,806.1" fill="#BFBF00"/>
<polygon points="292.3,785.3 299.3,799.3 285.3,799.3" fill="#BFBF00"/>
<line x1="244.3" y1="792.3" x2="330.3" y2="792.3" stroke="#BFBF00" stroke-width="3.5" stroke-linecap="round" />
<line x1="287.3" y1="782.0" x2="287.3" y2="802.5" stroke="#BFBF00" stroke-width="4.6" stroke-linecap="butt" />
<line x1="265.1" y1="782.0" x2="309.5" y2="782.0" stroke="#BFBF00" stroke-width="4.6" stroke-linecap="round" />
<line x1="265.1" y1="802.5" x2="309.5" y2="802.5" stroke="#BFBF00" stroke-width="4.6" stroke-linecap="round" />
<rect x="311.3" y="792.9" width="14.0" height="14.0" fill="#0000FF"/>
<rect x="281.3" y="805.7" width="14.0" height="14.0" fill="#0000FF"/>
<rect x="301.3" y="803.6" width="14.0" height="14.0" fill="#0000FF"/>
<rect x="263.3" y="801.9" width="14.0" height="14.0" fill="#0000FF"/>
<line x1="244.3" y1="806.3" x2="330.3" y2="806.3" stroke="#0000FF" stroke-width="3.5" stroke-linecap="round" />
<line x1="287.3" y1="800.8" x2="287.3" y2="811.8" stroke="#0000FF" stroke-width="4.6" stroke-linecap="butt" />
<line x1="265.1" y1="800.8" x2="309.5" y2="800.8" stroke="#0000FF" stroke-width="4.6" stroke-linecap="round" />
<line x1="265.1" y1="811.8" x2="309.5" y2="811.8" stroke="#0000FF" stroke-width="4.6" stroke-linecap="round" />
<circle cx="267.3" cy="805.9" r="7.0" fill="#000000"/>
<circle cx="277.3" cy="803.5" r="7.0" fill="#000000"/>
<circle cx="298.3" cy="804.0" r="7.0" fill="#000000"/>
<line x1="244.3" y1="804.3" x2="330.3" y2="804.3" stroke="#000000" stroke-width="3.5" stroke-linecap="round" />
<line x1="287.3" y1="803.0" x2="287.3" y2="805.6" stroke="#000000" stroke-width="4.6" stroke-linecap="butt" />
<line x1="265.1" y1="803.0" x2="309.5" y2="803.0" stroke="#000000" stroke-width="4.6" stroke-linecap="round" />
<line x1="265.1" y1="805.6" x2="309.5" y2="805.6" stroke="#000000" stroke-width="4.6" stroke-linecap="round" />
<polygon points="394.8,554.0 401.8,540.0 387.8,540.0" fill="#FF0000"/>
<polygon points="435.8,565.1 442.8,551.1 428.8,551.1" fill="#FF0000"/>
<polygon points="414.8,573.2 421.8,559.2 407.8,559.2" fill="#FF0000"/>
<line x1="371.8" y1="557.7" x2="457.8" y2="557.7" stroke="#FF0000" stroke-width="3.5" stroke-linecap="round" />
<line x1="414.8" y1="547.9" x2="414.8" y2="567.5" stroke="#FF0000" stroke-width="4.6" stroke-linecap="butt" />
<line x1="392.6" y1="547.9" x2="437.0" y2="547.9" stroke="#FF0000" stroke-width="4.6" stroke-linecap="round" />
<line x1="392.6" y1="567.5" x2="437.0" y2="567.5" stroke="#FF0000" stroke-width="4.6" stroke-linecap="round" />
<polygon points="414.8,751.2 421.8,765.2 407.8,765.2" fill="#BFBF00"/>
<polygon points="418.8,766.1 425.8,780.1 411.8,780.1" fill="#BFBF00"/>
<polygon points="404.8,779.7 411.8,793.7 397.8,793.7" fill="#BFBF00"/>
<line x1="371.8" y1="772.7" x2="457.8" y2="772.7" stroke="#BFBF00" stroke-width="3.5" stroke-linecap="round" />
<line x1="414.8" y1="758.2" x2="414.8" y2="787.1" stroke="#BFBF00" stroke-width="4.6" stroke-linecap="butt" />
<line x1="392.6" y1="758.2" x2="437.0" y2="758.2" stroke="#BFBF00" stroke-width="4.6" stroke-linecap="round" />
<line x1="392.6" y1="787.1" x2="437.0" y2="787.1" stroke="#BFBF00" stroke-width="4.6" stroke-linecap="round" />
<rect x="438.8" y="776.7" width="14.0" height="14.0" fill="#0000FF"/>
<rect x="387.8" y="784.8" width="14.0" height="14.0" fill="#0000FF"/>
<rect x="407.8" y="789.9" width="14.0" height="14.0" fill="#0000FF"/>
<line x1="371.8" y1="789.7" x2="457.8" y2="789.7" stroke="#0000FF" stroke-width="3.5" stroke-linecap="round" />
<line x1="414.8" y1="784.2" x2="414.8" y2="795.2" stroke="#0000FF" stroke-width="4.6" stroke-linecap="butt" />
<line x1="392.6" y1="784.2" x2="437.0" y2="784.2" stroke="#0000FF" stroke-width="4.6" stroke-linecap="round" />
<line x1="392.6" y1="795.2" x2="437.0" y2="795.2" stroke="#0000FF" stroke-width="4.6" stroke-linecap="round" />
<circle cx="384.8" cy="778.2" r="7.0" fill="#000000"/>
<circle cx="425.8" cy="787.6" r="7.0" fill="#000000"/>
<circle cx="435.8" cy="793.1" r="7.0" fill="#000000"/>
<line x1="371.8" y1="786.3" x2="457.8" y2="786.3" stroke="#000000" stroke-width="3.5" stroke-linecap="round" />
<line x1="414.8" y1="778.2" x2="414.8" y2="794.4" stroke="#000000" stroke-width="4.6" stroke-linecap="butt" />
<line x1="392.6" y1="778.2" x2="437.0" y2="778.2" stroke="#000000" stroke-width="4.6" stroke-linecap="round" />
<line x1="392.6" y1="794.4" x2="437.0" y2="794.4" stroke="#000000" stroke-width="4.6" stroke-linecap="round" />
<polygon points="522.3,524.6 529.3,510.6 515.3,510.6" fill="#FF0000"/>
<polygon points="563.3,535.3 570.3,521.3 556.3,521.3" fill="#FF0000"/>
<polygon points="542.3,542.1 549.3,528.1 535.3,528.1" fill="#FF0000"/>
<line x1="499.3" y1="527.4" x2="585.3" y2="527.4" stroke="#FF0000" stroke-width="3.5" stroke-linecap="round" />
<line x1="542.3" y1="519.3" x2="542.3" y2="535.5" stroke="#FF0000" stroke-width="4.6" stroke-linecap="butt" />
<line x1="520.1" y1="519.3" x2="564.5" y2="519.3" stroke="#FF0000" stroke-width="4.6" stroke-linecap="round" />
<line x1="520.1" y1="535.5" x2="564.5" y2="535.5" stroke="#FF0000" stroke-width="4.6" stroke-linecap="round" />
<polygon points="532.3,741.8 539.3,755.8 525.3,755.8" fill="#BFBF00"/>
<polygon points="563.3,744.4 570.3,758.4 556.3,758.4" fill="#BFBF00"/>
<polygon points="542.3,762.3 549.3,776.3 535.3,776.3" fill="#BFBF00"/>
<line x1="499.3" y1="756.5" x2="585.3" y2="756.5" stroke="#BFBF00" stroke-width="3.5" stroke-linecap="round" />
<line x1="542.3" y1="741.2" x2="542.3" y2="771.8" stroke="#BFBF00" stroke-width="4.6" stroke-linecap="butt" />
<line x1="520.1" y1="741.2" x2="564.5" y2="741.2" stroke="#BFBF00" stroke-width="4.6" stroke-linecap="round" />
<line x1="520.1" y1="771.8" x2="564.5" y2="771.8" stroke="#BFBF00" stroke-width="4.6" stroke-linecap="round" />
<rect x="535.3" y="758.0" width="14.0" height="14.0" fill="#0000FF"/>
<rect x="515.3" y="774.2" width="14.0" height="14.0" fill="#0000FF"/>
<rect x="550.3" y="767.8" width="14.0" height="14.0" fill="#0000FF"/>
<line x1="499.3" y1="773.5" x2="585.3" y2="773.5" stroke="#0000FF" stroke-width="3.5" stroke-linecap="round" />
<line x1="542.3" y1="765.4" x2="542.3" y2="781.6" stroke="#0000FF" stroke-width="4.6" stroke-linecap="butt" />
<line x1="520.1" y1="765.4" x2="564.5" y2="765.4" stroke="#0000FF" stroke-width="4.6" stroke-linecap="round" />
<line x1="520.1" y1="781.6" x2="564.5" y2="781.6" stroke="#0000FF" stroke-width="4.6" stroke-linecap="round" />
<circle cx="522.3" cy="766.3" r="7.0" fill="#000000"/>
<circle cx="563.3" cy="782.5" r="7.0" fill="#000000"/>
<circle cx="542.3" cy="791.8" r="7.0" fill="#000000"/>
<line x1="499.3" y1="779.9" x2="585.3" y2="779.9" stroke="#000000" stroke-width="3.5" stroke-linecap="round" />
<line x1="542.3" y1="767.6" x2="542.3" y2="792.3" stroke="#000000" stroke-width="4.6" stroke-linecap="butt" />
<line x1="520.1" y1="767.6" x2="564.5" y2="767.6" stroke="#000000" stroke-width="4.6" stroke-linecap="round" />
<line x1="520.1" y1="792.3" x2="564.5" y2="792.3" stroke="#000000" stroke-width="4.6" stroke-linecap="round" />
<line x1="96.0" y1="490.3" x2="96.0" y2="834.5" stroke="#000" stroke-width="3.6" stroke-linecap="butt" />
<line x1="85.5" y1="832.7" x2="608.8" y2="832.7" stroke="#000" stroke-width="3.6" stroke-linecap="butt" />
<line x1="85.5" y1="832.7" x2="96.0" y2="832.7" stroke="#000" stroke-width="3.6" stroke-linecap="butt" />
<text x="82.5" y="844.8" font-size="34.2" text-anchor="end" >0</text>
<line x1="85.5" y1="747.6" x2="96.0" y2="747.6" stroke="#000" stroke-width="3.6" stroke-linecap="butt" />
<text x="82.5" y="759.7" font-size="34.2" text-anchor="end" >20</text>
<line x1="85.5" y1="662.4" x2="96.0" y2="662.4" stroke="#000" stroke-width="3.6" stroke-linecap="butt" />
<text x="82.5" y="674.5" font-size="34.2" text-anchor="end" >40</text>
<line x1="85.5" y1="577.2" x2="96.0" y2="577.2" stroke="#000" stroke-width="3.6" stroke-linecap="butt" />
<text x="82.5" y="589.4" font-size="34.2" text-anchor="end" >60</text>
<line x1="85.5" y1="492.1" x2="96.0" y2="492.1" stroke="#000" stroke-width="3.6" stroke-linecap="butt" />
<text x="82.5" y="504.2" font-size="34.2" text-anchor="end" >80</text>
<line x1="160.0" y1="832.7" x2="160.0" y2="843.7" stroke="#000" stroke-width="3.6" stroke-linecap="butt" />
<text x="160.0" y="872.9" font-size="34.2" text-anchor="middle" >2</text>
<line x1="287.3" y1="832.7" x2="287.3" y2="843.7" stroke="#000" stroke-width="3.6" stroke-linecap="butt" />
<text x="287.3" y="872.9" font-size="34.2" text-anchor="middle" >5</text>
<line x1="414.8" y1="832.7" x2="414.8" y2="843.7" stroke="#000" stroke-width="3.6" stroke-linecap="butt" />
<text x="414.8" y="872.9" font-size="34.2" text-anchor="middle" >10</text>
<line x1="542.3" y1="832.7" x2="542.3" y2="843.7" stroke="#000" stroke-width="3.6" stroke-linecap="butt" />
<text x="542.3" y="872.9" font-size="34.2" text-anchor="middle" >20</text>
<text x="162.4" y="669.2" font-size="32" text-anchor="middle" >***</text>
<text x="289.6" y="641.2" font-size="32" text-anchor="middle" >***</text>
<text x="417.3" y="542.3" font-size="32" text-anchor="middle" >***</text>
<text x="544.9" y="513.2" font-size="32" text-anchor="middle" >***</text>
<circle cx="117.0" cy="490.4" r="7.1" fill="#000000"/>
<text x="156.7" y="499.2" font-size="24.5" text-anchor="start" >Azo NI</text>
<rect x="109.9" y="517.2" width="14.2" height="14.2" fill="#0000FF"/>
<text x="156.7" y="533.1" font-size="24.5" text-anchor="start" >GdAzo NI</text>
<polygon points="117.0,551.1 124.1,565.3 109.9,565.3" fill="#BFBF00"/>
<text x="156.7" y="567.0" font-size="24.5" text-anchor="start" >Azo E</text>
<polygon points="117.0,599.2 124.1,585.0 109.9,585.0" fill="#FF0000"/>
<text x="156.7" y="600.9" font-size="24.5" text-anchor="start" >GdAzo E</text>
<text x="353.1" y="918.5" font-size="33.0" text-anchor="middle" >Dose (Gy)</text>
<text x="25.0" y="657.0" font-size="31.8" text-anchor="middle" transform="rotate(-90 25 657)">Molecular activation (%)</text>
<text x="-0.8" y="480.3" font-size="43" text-anchor="start" font-weight="bold" >c</text>
<polygon points="139.5,1002.3 146.5,1016.3 132.5,1016.3" fill="#6C1AA3"/>
<polygon points="159.0,1003.7 166.0,1017.7 152.0,1017.7" fill="#6C1AA3"/>
<polygon points="181.0,1002.3 188.0,1016.3 174.0,1016.3" fill="#6C1AA3"/>
<line x1="117.0" y1="1007.9" x2="203.0" y2="1007.9" stroke="#6C1AA3" stroke-width="3.9" stroke-linecap="round" />
<line x1="160.0" y1="1006.2" x2="160.0" y2="1009.6" stroke="#6C1AA3" stroke-width="5.0" stroke-linecap="butt" />
<line x1="137.8" y1="1006.2" x2="182.2" y2="1006.2" stroke="#6C1AA3" stroke-width="5.0" stroke-linecap="round" />
<line x1="137.8" y1="1009.6" x2="182.2" y2="1009.6" stroke="#6C1AA3" stroke-width="5.0" stroke-linecap="round" />
<rect x="140.0" y="989.0" width="14.0" height="14.0" fill="#0000FF"/>
<rect x="162.0" y="996.2" width="14.0" height="14.0" fill="#0000FF"/>
<rect x="184.0" y="985.3" width="14.0" height="14.0" fill="#0000FF"/>
<rect x="146.0" y="987.3" width="14.0" height="14.0" fill="#0000FF"/>
<line x1="117.0" y1="997.4" x2="203.0" y2="997.4" stroke="#0000FF" stroke-width="3.9" stroke-linecap="round" />
<line x1="160.0" y1="991.9" x2="160.0" y2="1002.8" stroke="#0000FF" stroke-width="5.0" stroke-linecap="butt" />
<line x1="137.8" y1="991.9" x2="182.2" y2="991.9" stroke="#0000FF" stroke-width="5.0" stroke-linecap="round" />
<line x1="137.8" y1="1002.8" x2="182.2" y2="1002.8" stroke="#0000FF" stroke-width="5.0" stroke-linecap="round" />
<circle cx="139.5" cy="1041.3" r="7.0" fill="#FF0000"/>
<circle cx="160.0" cy="1046.0" r="7.0" fill="#FF0000"/>
<circle cx="160.0" cy="1080.4" r="7.0" fill="#FF0000"/>
<line x1="117.0" y1="1056.6" x2="203.0" y2="1056.6" stroke="#FF0000" stroke-width="3.9" stroke-linecap="round" />
<line x1="160.0" y1="1034.5" x2="160.0" y2="1078.7" stroke="#FF0000" stroke-width="5.0" stroke-linecap="butt" />
<line x1="137.8" y1="1034.5" x2="182.2" y2="1034.5" stroke="#FF0000" stroke-width="5.0" stroke-linecap="round" />
<line x1="137.8" y1="1078.7" x2="182.2" y2="1078.7" stroke="#FF0000" stroke-width="5.0" stroke-linecap="round" />
<polygon points="266.7,1116.9 273.7,1130.9 259.7,1130.9" fill="#6C1AA3"/>
<polygon points="286.3,1113.9 293.3,1127.9 279.3,1127.9" fill="#6C1AA3"/>
<polygon points="296.3,1108.1 303.3,1122.1 289.3,1122.1" fill="#6C1AA3"/>
<line x1="244.3" y1="1118.8" x2="330.3" y2="1118.8" stroke="#6C1AA3" stroke-width="3.9" stroke-linecap="round" />
<line x1="287.3" y1="1115.4" x2="287.3" y2="1122.2" stroke="#6C1AA3" stroke-width="5.0" stroke-linecap="butt" />
<line x1="265.1" y1="1115.4" x2="309.5" y2="1115.4" stroke="#6C1AA3" stroke-width="5.0" stroke-linecap="round" />
<line x1="265.1" y1="1122.2" x2="309.5" y2="1122.2" stroke="#6C1AA3" stroke-width="5.0" stroke-linecap="round" />
<rect x="259.7" y="1108.4" width="14.0" height="14.0" fill="#0000FF"/>
<rect x="290.7" y="1105.7" width="14.0" height="14.0" fill="#0000FF"/>
<rect x="300.5" y="1113.9" width="14.0" height="14.0" fill="#0000FF"/>
<line x1="244.3" y1="1117.8" x2="330.3" y2="1117.8" stroke="#0000FF" stroke-width="3.9" stroke-linecap="round" />
<line x1="287.3" y1="1114.4" x2="287.3" y2="1121.2" stroke="#0000FF" stroke-width="5.0" stroke-linecap="butt" />
<line x1="265.1" y1="1114.4" x2="309.5" y2="1114.4" stroke="#0000FF" stroke-width="5.0" stroke-linecap="round" />
<line x1="265.1" y1="1121.2" x2="309.5" y2="1121.2" stroke="#0000FF" stroke-width="5.0" stroke-linecap="round" />
<circle cx="287.3" cy="1140.3" r="7.0" fill="#FF0000"/>
<circle cx="307.6" cy="1156.9" r="7.0" fill="#FF0000"/>
<circle cx="287.3" cy="1166.1" r="7.0" fill="#FF0000"/>
<line x1="244.3" y1="1155.2" x2="330.3" y2="1155.2" stroke="#FF0000" stroke-width="3.9" stroke-linecap="round" />
<line x1="287.3" y1="1142.0" x2="287.3" y2="1168.5" stroke="#FF0000" stroke-width="5.0" stroke-linecap="butt" />
<line x1="265.1" y1="1142.0" x2="309.5" y2="1142.0" stroke="#FF0000" stroke-width="5.0" stroke-linecap="round" />
<line x1="265.1" y1="1168.5" x2="309.5" y2="1168.5" stroke="#FF0000" stroke-width="5.0" stroke-linecap="round" />
<polygon points="445.7,1184.6 452.7,1198.6 438.7,1198.6" fill="#6C1AA3"/>
<polygon points="393.7,1183.3 400.7,1197.3 386.7,1197.3" fill="#6C1AA3"/>
<polygon points="414.7,1182.3 421.7,1196.3 407.7,1196.3" fill="#6C1AA3"/>
<line x1="371.7" y1="1190.3" x2="457.7" y2="1190.3" stroke="#6C1AA3" stroke-width="3.9" stroke-linecap="round" />
<line x1="414.7" y1="1188.6" x2="414.7" y2="1192.0" stroke="#6C1AA3" stroke-width="5.0" stroke-linecap="butt" />
<line x1="392.5" y1="1188.6" x2="436.9" y2="1188.6" stroke="#6C1AA3" stroke-width="5.0" stroke-linecap="round" />
<line x1="392.5" y1="1192.0" x2="436.9" y2="1192.0" stroke="#6C1AA3" stroke-width="5.0" stroke-linecap="round" />
<rect x="376.7" y="1181.6" width="14.0" height="14.0" fill="#0000FF"/>
<rect x="407.7" y="1172.7" width="14.0" height="14.0" fill="#0000FF"/>
<rect x="417.7" y="1184.6" width="14.0" height="14.0" fill="#0000FF"/>
<line x1="371.7" y1="1188.6" x2="457.7" y2="1188.6" stroke="#0000FF" stroke-width="3.9" stroke-linecap="round" />
<line x1="414.7" y1="1182.1" x2="414.7" y2="1195.0" stroke="#0000FF" stroke-width="5.0" stroke-linecap="butt" />
<line x1="392.5" y1="1182.1" x2="436.9" y2="1182.1" stroke="#0000FF" stroke-width="5.0" stroke-linecap="round" />
<line x1="392.5" y1="1195.0" x2="436.9" y2="1195.0" stroke="#0000FF" stroke-width="5.0" stroke-linecap="round" />
<circle cx="393.7" cy="1197.1" r="7.0" fill="#FF0000"/>
<circle cx="414.7" cy="1205.6" r="7.0" fill="#FF0000"/>
<circle cx="434.4" cy="1200.5" r="7.0" fill="#FF0000"/>
<line x1="371.7" y1="1201.2" x2="457.7" y2="1201.2" stroke="#FF0000" stroke-width="3.9" stroke-linecap="round" />
<line x1="414.7" y1="1196.7" x2="414.7" y2="1205.6" stroke="#FF0000" stroke-width="5.0" stroke-linecap="butt" />
<line x1="392.5" y1="1196.7" x2="436.9" y2="1196.7" stroke="#FF0000" stroke-width="5.0" stroke-linecap="round" />
<line x1="392.5" y1="1205.6" x2="436.9" y2="1205.6" stroke="#FF0000" stroke-width="5.0" stroke-linecap="round" />
<polygon points="510.5,1222.7 517.5,1236.7 503.5,1236.7" fill="#6C1AA3"/>
<polygon points="572.5,1222.7 579.5,1236.7 565.5,1236.7" fill="#6C1AA3"/>
<polygon points="542.1,1227.2 549.1,1241.2 535.1,1241.2" fill="#6C1AA3"/>
<line x1="499.1" y1="1234.2" x2="585.1" y2="1234.2" stroke="#6C1AA3" stroke-width="3.9" stroke-linecap="round" />
<line x1="542.1" y1="1232.5" x2="542.1" y2="1235.9" stroke="#6C1AA3" stroke-width="5.0" stroke-linecap="butt" />
<line x1="519.9" y1="1232.5" x2="564.3" y2="1232.5" stroke="#6C1AA3" stroke-width="5.0" stroke-linecap="round" />
<line x1="519.9" y1="1235.9" x2="564.3" y2="1235.9" stroke="#6C1AA3" stroke-width="5.0" stroke-linecap="round" />
<rect x="530.3" y="1221.0" width="14.0" height="14.0" fill="#0000FF"/>
<rect x="544.4" y="1224.1" width="14.0" height="14.0" fill="#0000FF"/>
<rect x="520.1" y="1230.6" width="14.0" height="14.0" fill="#0000FF"/>
<line x1="499.1" y1="1233.5" x2="585.1" y2="1233.5" stroke="#0000FF" stroke-width="3.9" stroke-linecap="round" />
<line x1="542.1" y1="1230.8" x2="542.1" y2="1236.2" stroke="#0000FF" stroke-width="5.0" stroke-linecap="butt" />
<line x1="519.9" y1="1230.8" x2="564.3" y2="1230.8" stroke="#0000FF" stroke-width="5.0" stroke-linecap="round" />
<line x1="519.9" y1="1236.2" x2="564.3" y2="1236.2" stroke="#0000FF" stroke-width="5.0" stroke-linecap="round" />
<circle cx="521.8" cy="1238.6" r="7.0" fill="#FF0000"/>
<circle cx="541.5" cy="1239.3" r="7.0" fill="#FF0000"/>
<circle cx="562.7" cy="1238.6" r="7.0" fill="#FF0000"/>
<line x1="499.1" y1="1238.9" x2="585.1" y2="1238.9" stroke="#FF0000" stroke-width="3.9" stroke-linecap="round" />
<line x1="542.1" y1="1237.9" x2="542.1" y2="1240.0" stroke="#FF0000" stroke-width="5.0" stroke-linecap="butt" />
<line x1="519.9" y1="1237.9" x2="564.3" y2="1237.9" stroke="#FF0000" stroke-width="5.0" stroke-linecap="round" />
<line x1="519.9" y1="1240.0" x2="564.3" y2="1240.0" stroke="#FF0000" stroke-width="5.0" stroke-linecap="round" />
<line x1="96.5" y1="941.5" x2="96.5" y2="1285.3" stroke="#000" stroke-width="3.6" stroke-linecap="butt" />
<line x1="86.0" y1="1283.5" x2="608.2" y2="1283.5" stroke="#000" stroke-width="3.6" stroke-linecap="butt" />
<line x1="86.0" y1="1283.5" x2="96.5" y2="1283.5" stroke="#000" stroke-width="3.6" stroke-linecap="butt" />
<text x="83.0" y="1295.6" font-size="34.2" text-anchor="end" >0</text>
<line x1="86.0" y1="1215.5" x2="96.5" y2="1215.5" stroke="#000" stroke-width="3.6" stroke-linecap="butt" />
<text x="83.0" y="1227.6" font-size="34.2" text-anchor="end" >2</text>
<line x1="86.0" y1="1147.4" x2="96.5" y2="1147.4" stroke="#000" stroke-width="3.6" stroke-linecap="butt" />
<text x="83.0" y="1159.5" font-size="34.2" text-anchor="end" >4</text>
<line x1="86.0" y1="1079.4" x2="96.5" y2="1079.4" stroke="#000" stroke-width="3.6" stroke-linecap="butt" />
<text x="83.0" y="1091.5" font-size="34.2" text-anchor="end" >6</text>
<line x1="86.0" y1="1011.3" x2="96.5" y2="1011.3" stroke="#000" stroke-width="3.6" stroke-linecap="butt" />
<text x="83.0" y="1023.4" font-size="34.2" text-anchor="end" >8</text>
<line x1="86.0" y1="943.3" x2="96.5" y2="943.3" stroke="#000" stroke-width="3.6" stroke-linecap="butt" />
<text x="83.0" y="955.4" font-size="34.2" text-anchor="end" >10</text>
<line x1="160.0" y1="1283.5" x2="160.0" y2="1294.5" stroke="#000" stroke-width="3.6" stroke-linecap="butt" />
<text x="160.0" y="1323.7" font-size="34.2" text-anchor="middle" >2</text>
<line x1="287.3" y1="1283.5" x2="287.3" y2="1294.5" stroke="#000" stroke-width="3.6" stroke-linecap="butt" />
<text x="287.3" y="1323.7" font-size="34.2" text-anchor="middle" >5</text>
<line x1="414.7" y1="1283.5" x2="414.7" y2="1294.5" stroke="#000" stroke-width="3.6" stroke-linecap="butt" />
<text x="414.7" y="1323.7" font-size="34.2" text-anchor="middle" >10</text>
<line x1="542.1" y1="1283.5" x2="542.1" y2="1294.5" stroke="#000" stroke-width="3.6" stroke-linecap="butt" />
<text x="542.1" y="1323.7" font-size="34.2" text-anchor="middle" >20</text>
<circle cx="519.9" cy="957.1" r="7.0" fill="#FF0000"/>
<text x="558.3" y="969.0" font-size="33.5" text-anchor="start" >XR</text>
<rect x="512.9" y="989.3" width="14.1" height="14.1" fill="#0000FF"/>
<text x="558.3" y="1008.2" font-size="33.5" text-anchor="start" >GR</text>
<polygon points="519.9,1028.5 526.9,1042.5 512.9,1042.5" fill="#6C1AA3"/>
<text x="558.3" y="1047.4" font-size="33.5" text-anchor="start" >E</text>
<text x="353.1" y="1369.1" font-size="33.0" text-anchor="middle" >Dose (Gy)</text>
<text x="24.7" y="1107.5" font-size="32.5" text-anchor="middle" transform="rotate(-90 24.7 1107.5)"><tspan font-style="italic">G</tspan>-value (µmol/J)</text>
<text x="0.4" y="956.0" font-size="43" text-anchor="start" font-weight="bold" >d</text>
<text x="681.2" y="494.5" font-size="43" text-anchor="start" font-weight="bold" >e</text>
<text x="918.2" y="549.3" font-size="33.3" text-anchor="start" >Molecular activation (%)</text>
<line x1="870.5" y1="556.1" x2="1321.4" y2="556.1" stroke="#000" stroke-width="1.5" stroke-linecap="butt" />
<text x="734.2" y="594.0" font-size="33.8" text-anchor="start" >Source</text>
<text x="982.5" y="594.0" font-size="33.8" text-anchor="end" >2 Gy</text>
<text x="1095.5" y="594.0" font-size="33.8" text-anchor="end" >5 Gy</text>
<text x="1206.0" y="594.0" font-size="33.8" text-anchor="end" >10 Gy</text>
<text x="1319.5" y="594.0" font-size="33.8" text-anchor="end" >20 Gy</text>
<line x1="733.0" y1="601.2" x2="1321.4" y2="601.2" stroke="#000" stroke-width="1.5" stroke-linecap="butt" />
<text x="733.6" y="639.2" font-size="33.8" text-anchor="start" >XR</text>
<text x="983.3" y="639.2" font-size="33.8" text-anchor="end" >30.0</text>
<text x="1096.3" y="639.2" font-size="33.8" text-anchor="end" >45.5</text>
<text x="1206.8" y="639.2" font-size="33.8" text-anchor="end" >60.2</text>
<text x="1320.3" y="639.2" font-size="33.8" text-anchor="end" >68.1</text>
<text x="733.6" y="684.1" font-size="33.8" text-anchor="start" >GR</text>
<text x="983.3" y="684.1" font-size="33.8" text-anchor="end" >33.4</text>
<text x="1096.3" y="684.1" font-size="33.8" text-anchor="end" >50.3</text>
<text x="1206.8" y="684.1" font-size="33.8" text-anchor="end" >62.6</text>
<text x="1320.3" y="684.1" font-size="33.8" text-anchor="end" >68.6</text>
<text x="733.6" y="729.0" font-size="33.8" text-anchor="start" >E</text>
<text x="983.3" y="729.0" font-size="33.8" text-anchor="end" >36.2</text>
<text x="1096.3" y="729.0" font-size="33.8" text-anchor="end" >54.5</text>
<text x="1206.8" y="729.0" font-size="33.8" text-anchor="end" >64.7</text>
<text x="1320.3" y="729.0" font-size="33.8" text-anchor="end" >71.8</text>
<line x1="811.6" y1="942.7" x2="811.6" y2="1285.8" stroke="#000" stroke-width="3.6" stroke-linecap="butt" />
<line x1="801.6" y1="1284.0" x2="1324.2" y2="1284.0" stroke="#000" stroke-width="3.6" stroke-linecap="butt" />
<polyline points="811.6,986.0 846.7,969.5 867.5,1031.6 883.1,1043.5 894.2,1043.0 903.9,1031.0 912.0,1073.2 918.0,1049.0 924.6,1098.4 929.8,1060.0 935.0,1112.5 943.2,1034.0 946.9,1044.3 951.3,1021.5 954.3,1062.0 957.3,1013.0 963.2,1056.0 966.2,1028.0 970.6,1057.6 973.6,1041.0 977.3,1095.0 979.3,1127.0 981.5,1090.0 984.5,1136.0 986.0,1110.0 988.2,1153.0 991.2,1131.0 993.4,1169.0 996.0,1158.0 998.0,1170.0" fill="none" stroke="#0000FF" stroke-width="3.4" stroke-linejoin="round" />
<polygon points="996.0,1169.5 997.6,1168.7 999.2,1165.9 1000.8,1168.9 1002.4,1169.0 1004.0,1166.8 1005.6,1167.6 1007.2,1168.0 1008.8,1166.8 1010.4,1168.0 1012.0,1168.5 1013.6,1169.1 1015.2,1166.8 1016.8,1167.2 1018.4,1167.9 1020.0,1169.6 1021.6,1169.4 1023.2,1165.6 1024.8,1168.7 1026.4,1166.0 1028.0,1166.5 1029.6,1167.9 1029.6,1174.5 1028.0,1175.9 1026.4,1175.5 1024.8,1176.2 1023.2,1173.4 1021.6,1175.2 1020.0,1174.0 1018.4,1174.8 1016.8,1176.2 1015.2,1175.5 1013.6,1176.5 1012.0,1174.5 1010.4,1174.8 1008.8,1173.7 1007.2,1176.0 1005.6,1175.9 1004.0,1176.7 1002.4,1173.5 1000.8,1175.7 999.2,1176.3 997.6,1174.8 996.0,1176.0" fill="#0000FF" stroke="#0000FF" stroke-width="1.2" stroke-linejoin="round"/>
<line x1="1004.5" y1="1170.0" x2="1004.5" y2="1160.0" stroke="#0000FF" stroke-width="2.6" stroke-linecap="round" />
<line x1="1018.0" y1="1170.0" x2="1018.0" y2="1162.0" stroke="#0000FF" stroke-width="2.6" stroke-linecap="round" />
<line x1="1009.0" y1="1170.0" x2="1009.0" y2="1163.0" stroke="#0000FF" stroke-width="2.6" stroke-linecap="round" />
<polyline points="1028.5,1145.7 1029.2,1160.8 1029.9,1142.9 1030.6,1167.1 1031.3,1146.6 1032.0,1171.8 1032.7,1150.5 1033.4,1169.7 1034.1,1142.5 1034.8,1165.8 1035.5,1148.1 1036.2,1158.7 1036.9,1146.8 1037.6,1162.6 1038.3,1144.2 1039.0,1169.2 1039.7,1146.2 1040.4,1159.4 1041.1,1145.7 1041.8,1170.8 1042.5,1145.9 1043.2,1160.6 1043.9,1127.2 1044.6,1165.2 1045.3,1127.2 1046.0,1163.8 1046.7,1132.3 1047.4,1165.3 1048.1,1134.9 1048.8,1165.9 1049.5,1128.1 1050.2,1163.8 1050.9,1123.4 1051.6,1167.9 1052.3,1135.5 1053.0,1168.2 1053.7,1127.9 1054.4,1159.2 1055.1,1122.5 1055.8,1165.7 1056.5,1133.2 1057.2,1158.4 1057.9,1134.4 1058.6,1168.0 1059.3,1126.1 1060.0,1171.8 1060.7,1132.1 1061.4,1164.9 1062.1,1128.2 1062.8,1167.6 1063.5,1126.0 1064.2,1171.3 1064.9,1134.2 1065.6,1164.9 1066.3,1135.2 1067.0,1171.4 1067.7,1124.9 1068.4,1166.5 1069.1,1129.5 1069.8,1164.7 1070.5,1131.7 1071.2,1161.1 1071.9,1124.3 1072.6,1162.3" fill="none" stroke="#0000FF" stroke-width="2.6" stroke-linejoin="round" />
<polygon points="1070.0,1167.7 1071.3,1165.7 1072.6,1165.6 1073.9,1168.4 1075.2,1167.6 1076.5,1166.3 1077.8,1168.2 1079.1,1166.5 1080.4,1167.1 1081.7,1167.2 1083.0,1168.9 1084.3,1168.7 1085.6,1166.6 1086.9,1166.7 1088.2,1167.2 1089.5,1165.8 1090.8,1166.8 1092.1,1169.0 1093.4,1168.6 1094.7,1167.6 1096.0,1167.5 1097.3,1169.1 1098.6,1167.9 1099.9,1169.1 1101.2,1169.3 1102.5,1166.0 1103.8,1166.3 1105.1,1168.5 1106.4,1166.4 1107.7,1167.1 1109.0,1167.0 1110.3,1167.9 1111.6,1166.2 1112.9,1167.6 1114.2,1167.9 1115.5,1166.5 1116.8,1167.2 1118.1,1167.8 1119.4,1167.2 1120.7,1167.6 1122.0,1167.6 1123.3,1166.5 1124.6,1168.2 1125.9,1166.5 1127.2,1168.2 1128.5,1166.5 1129.8,1168.1 1131.1,1169.2 1132.4,1167.3 1133.7,1166.6 1135.0,1167.4 1136.3,1167.8 1137.6,1168.4 1138.9,1166.9 1140.2,1166.4 1141.5,1169.3 1142.8,1168.0 1144.1,1168.4 1145.4,1169.2 1146.7,1169.1 1148.0,1169.4 1149.3,1167.6 1150.6,1167.2 1151.9,1166.6 1153.2,1167.9 1154.5,1168.6 1155.8,1168.5 1157.1,1169.6 1158.4,1169.5 1159.7,1168.3 1161.0,1167.1 1162.3,1168.4 1163.6,1169.8 1164.9,1169.7 1166.2,1169.1 1167.5,1169.0 1168.8,1169.6 1170.1,1169.2 1171.4,1169.0 1172.7,1168.2 1174.0,1168.3 1175.3,1168.6 1176.6,1169.9 1177.9,1169.1 1179.2,1169.8 1180.5,1168.7 1181.8,1168.8 1183.1,1169.4 1184.4,1169.4 1185.7,1167.8 1187.0,1170.3 1188.3,1167.9 1189.6,1169.4 1190.9,1168.4 1192.2,1168.1 1193.5,1170.6 1194.8,1169.5 1196.1,1168.2 1197.4,1169.7 1198.7,1169.9 1200.0,1168.6 1201.3,1170.5 1202.6,1170.7 1203.9,1168.3 1205.2,1169.9 1206.5,1168.1 1207.8,1168.2 1209.1,1170.1 1210.4,1170.7 1211.7,1169.2 1213.0,1168.6 1214.3,1168.5 1215.6,1169.1 1216.9,1169.8 1218.2,1170.7 1219.5,1170.2 1220.8,1170.6 1222.1,1170.3 1223.4,1169.2 1224.7,1171.0 1226.0,1169.8 1227.3,1169.3 1228.6,1170.1 1229.9,1170.4 1231.2,1169.8 1232.5,1169.5 1233.8,1171.0 1235.1,1169.6 1236.4,1169.7 1237.7,1171.1 1239.0,1171.2 1240.3,1170.2 1241.6,1169.5 1242.9,1168.5 1244.2,1168.4 1245.5,1169.1 1246.8,1168.1 1248.1,1171.0 1249.4,1168.9 1250.7,1168.7 1252.0,1169.8 1253.3,1170.4 1254.6,1168.3 1255.9,1168.7 1257.2,1171.5 1258.5,1170.3 1259.8,1171.5 1261.1,1168.6 1262.4,1170.2 1263.7,1167.5 1265.0,1168.7 1266.3,1168.8 1267.6,1166.2 1268.9,1165.5 1270.2,1166.9 1271.5,1165.4 1272.8,1164.6 1274.1,1164.2 1275.4,1163.8 1276.7,1162.2 1278.0,1162.0 1279.3,1161.7 1280.6,1160.9 1280.6,1173.3 1279.3,1175.9 1278.0,1177.8 1276.7,1179.4 1275.4,1177.8 1274.1,1181.3 1272.8,1182.1 1271.5,1181.4 1270.2,1183.7 1268.9,1183.0 1267.6,1184.2 1266.3,1186.4 1265.0,1185.6 1263.7,1185.0 1262.4,1186.3 1261.1,1186.6 1259.8,1185.3 1258.5,1187.6 1257.2,1185.5 1255.9,1187.7 1254.6,1185.6 1253.3,1186.0 1252.0,1187.6 1250.7,1184.8 1249.4,1187.1 1248.1,1186.4 1246.8,1186.1 1245.5,1186.8 1244.2,1184.2 1242.9,1184.3 1241.6,1184.9 1240.3,1185.5 1239.0,1184.0 1237.7,1186.4 1236.4,1186.1 1235.1,1185.9 1233.8,1186.1 1232.5,1186.2 1231.2,1183.6 1229.9,1183.1 1228.6,1183.4 1227.3,1183.0 1226.0,1184.2 1224.7,1184.4 1223.4,1183.4 1222.1,1185.1 1220.8,1185.0 1219.5,1184.2 1218.2,1183.5 1216.9,1184.7 1215.6,1183.9 1214.3,1182.2 1213.0,1183.3 1211.7,1181.9 1210.4,1181.8 1209.1,1182.0 1207.8,1182.4 1206.5,1183.6 1205.2,1181.7 1203.9,1184.0 1202.6,1183.6 1201.3,1181.8 1200.0,1181.2 1198.7,1182.9 1197.4,1183.4 1196.1,1181.5 1194.8,1183.4 1193.5,1183.5 1192.2,1182.3 1190.9,1182.9 1189.6,1181.7 1188.3,1180.7 1187.0,1182.4 1185.7,1181.5 1184.4,1181.2 1183.1,1182.5 1181.8,1179.9 1180.5,1180.3 1179.2,1182.7 1177.9,1181.2 1176.6,1181.6 1175.3,1179.4 1174.0,1181.4 1172.7,1181.9 1171.4,1181.2 1170.1,1181.5 1168.8,1178.9 1167.5,1178.8 1166.2,1179.3 1164.9,1180.6 1163.6,1179.3 1162.3,1179.4 1161.0,1178.6 1159.7,1180.2 1158.4,1179.5 1157.1,1179.6 1155.8,1180.5 1154.5,1178.6 1153.2,1181.1 1151.9,1180.0 1150.6,1179.0 1149.3,1180.0 1148.0,1178.9 1146.7,1178.5 1145.4,1178.0 1144.1,1178.2 1142.8,1180.2 1141.5,1179.6 1140.2,1178.5 1138.9,1179.5 1137.6,1178.2 1136.3,1178.5 1135.0,1179.5 1133.7,1177.9 1132.4,1179.4 1131.1,1178.8 1129.8,1179.9 1128.5,1180.1 1127.2,1177.4 1125.9,1179.8 1124.6,1179.3 1123.3,1177.7 1122.0,1179.7 1120.7,1176.9 1119.4,1178.2 1118.1,1178.6 1116.8,1179.7 1115.5,1177.1 1114.2,1177.3 1112.9,1177.8 1111.6,1178.8 1110.3,1176.7 1109.0,1177.1 1107.7,1178.7 1106.4,1178.4 1105.1,1176.9 1103.8,1179.3 1102.5,1176.9 1101.2,1176.5 1099.9,1177.7 1098.6,1176.1 1097.3,1178.6 1096.0,1176.3 1094.7,1176.3 1093.4,1177.4 1092.1,1178.6 1090.8,1178.2 1089.5,1175.5 1088.2,1177.8 1086.9,1178.5 1085.6,1178.5 1084.3,1176.7 1083.0,1178.5 1081.7,1177.3 1080.4,1177.5 1079.1,1176.3 1077.8,1175.6 1076.5,1177.9 1075.2,1175.5 1073.9,1178.2 1072.6,1176.3 1071.3,1175.7 1070.0,1175.2" fill="#0000FF" stroke="#0000FF" stroke-width="1.2" stroke-linejoin="round"/>
<rect x="1145.5" y="1152" width="2.5" height="18" fill="#0000FF"/>
<rect x="1151.6" y="1152" width="2.4" height="18" fill="#0000FF"/>
<rect x="1157.4" y="1152" width="3.6" height="18" fill="#0000FF"/>
<polygon points="1280.5,1173.5 1281.8,1158.5 1284.5,1161.0 1294.3,1250.0 1294.3,1268.5 1284.0,1268.5" fill="#0000FF" stroke="#0000FF" stroke-width="1.2" stroke-linejoin="round"/>
<polygon points="1294.7,1268.5 1294.7,1008.0 1296.2,1006.5 1297.9,1008.0 1298.2,1054.0 1301.4,1054.0 1301.8,1086.0 1302.6,1120.0 1302.6,1268.5" fill="#0000FF" stroke="#0000FF" stroke-width="1.2" stroke-linejoin="round"/>
<polyline points="811.6,984.9 846.7,968.3 867.5,1028.7 883.1,1042.0 894.2,1040.5 903.9,1029.4 912.0,1065.8 918.0,1047.2 924.6,1079.9 929.8,1058.3 935.0,1087.3 943.2,1032.4 946.9,1039.8 951.3,1019.8 954.3,1060.6 957.3,1011.6 963.2,1048.7 966.2,1026.4 970.6,1053.1 973.6,1039.0 977.3,1093.2 979.3,1115.7 981.5,1081.6 984.5,1121.7 986.0,1103.9 988.2,1126.1 991.2,1112.8 993.4,1130.6 994.5,1131.8 995.8,1129.9 997.1,1131.8 998.4,1131.6 999.7,1132.4 1001.0,1130.8 1002.3,1130.8 1003.6,1131.0 1004.9,1133.1 1006.2,1131.3 1007.5,1132.0 1008.8,1132.9 1010.1,1132.2 1011.4,1130.8 1012.7,1131.3 1014.0,1130.5 1015.3,1130.9 1016.6,1130.9 1017.9,1130.1 1019.2,1132.2 1020.5,1132.3 1021.8,1131.3 1023.1,1131.5 1024.4,1131.4 1025.7,1131.5 1027.0,1132.3 1028.5,1129.1 1029.0,1131.4 1029.6,1124.1 1030.1,1129.9 1030.7,1114.6 1031.2,1133.6 1031.8,1104.4 1032.3,1126.0 1032.9,1092.1 1033.4,1118.3 1034.0,1077.9 1034.5,1120.7 1035.1,1073.0 1035.6,1131.5 1036.2,1066.8 1036.7,1121.0 1037.3,1062.8 1037.8,1109.4 1038.4,1057.3 1038.9,1111.8 1039.5,1057.6 1040.0,1131.2 1040.6,1052.4 1041.1,1118.3 1041.7,1054.3 1042.2,1132.9 1042.8,1049.8 1043.3,1106.9 1043.9,1049.7 1044.4,1114.5 1045.0,1045.7 1045.5,1122.2 1046.1,1032.7 1046.6,1131.8 1047.2,1036.1 1047.7,1120.5 1048.3,1058.5 1048.8,1117.5 1049.4,1068.5 1049.9,1126.7 1050.5,1071.7 1051.0,1125.8 1051.6,1066.5 1052.1,1108.5 1052.7,1056.2 1053.2,1112.9 1053.8,1047.4 1054.3,1112.4 1054.9,1048.6 1055.4,1132.3 1056.0,1049.5 1056.5,1133.7 1057.1,1052.0 1057.6,1132.0 1058.2,1070.0 1058.7,1116.1 1059.3,1091.3 1059.8,1113.3 1060.4,1086.6 1060.9,1113.2 1061.5,1077.4 1062.0,1126.9 1062.6,1074.0 1063.1,1126.8 1063.7,1086.3 1064.2,1110.4 1064.8,1096.8 1065.3,1129.9 1065.9,1099.4 1066.4,1128.2 1067.0,1098.9 1067.5,1105.1 1068.1,1097.4 1068.6,1105.7 1069.2,1093.3 1069.7,1106.2 1070.5,1096.4 1074.2,1096.4 1074.2,1089.0 1081.0,1089.0 1081.0,1135.0 1082.0,1135.1 1083.3,1135.7 1084.6,1136.9 1085.9,1135.4 1087.2,1136.6 1088.5,1136.3 1089.8,1137.6 1091.1,1137.4 1092.4,1136.8 1093.7,1137.9 1095.0,1137.4 1096.3,1137.2 1097.6,1137.7 1098.9,1138.6 1100.2,1138.0 1101.5,1140.3 1102.8,1140.6 1104.1,1138.9 1105.4,1140.5 1106.7,1140.5 1108.4,1141.0 1108.6,1111.3 1112.5,1111.3 1112.8,1142.0 1115.0,1142.0 1115.3,1128.0 1118.5,1128.0 1118.8,1146.9 1119.5,1145.7 1120.8,1148.1 1122.1,1146.6 1123.4,1147.7 1124.7,1147.4 1126.0,1148.3 1127.3,1148.6 1128.6,1148.8 1129.9,1147.9 1131.2,1149.1 1132.5,1149.1 1133.8,1148.6 1135.1,1148.9 1136.4,1147.5 1137.7,1149.4 1139.0,1149.8 1140.3,1149.7 1141.6,1147.7 1142.9,1148.5 1144.2,1150.0 1145.5,1150.0 1147.0,1100.0 1148.5,1081.0 1150.0,1081.0 1151.0,1100.0 1152.0,1145.0 1154.0,1140.0 1156.6,1112.0 1158.5,1140.0 1160.0,1146.0 1163.0,1135.0 1165.0,1140.0 1167.5,1125.2 1169.5,1148.0 1172.0,1145.0 1175.1,1143.7 1177.0,1152.0" fill="none" stroke="#FF0000" stroke-width="3.4" stroke-linejoin="round" stroke-linejoin="miter"/>
<polygon points="1173.9,1150.0 1174.6,1152.5 1176.1,1155.0 1174.6,1157.6 1175.4,1160.1 1174.9,1162.6 1175.9,1165.4 1177.9,1168.2 1176.9,1170.9 1177.5,1173.7 1179.0,1176.5 1180.8,1179.2 1183.1,1182.0 1185.5,1184.7 1185.4,1187.3 1187.6,1189.9 1189.4,1192.5 1192.3,1195.1 1192.8,1197.9 1195.4,1200.7 1197.0,1203.4 1197.3,1206.2 1196.7,1209.0 1199.9,1211.7 1202.2,1214.5 1203.3,1217.2 1204.9,1219.8 1206.1,1222.3 1206.5,1224.9 1207.4,1227.4 1209.7,1230.0 1211.8,1232.7 1211.5,1235.4 1213.6,1238.1 1212.3,1240.6 1215.2,1243.2 1215.6,1245.7 1216.1,1248.2 1214.7,1250.8 1215.3,1253.3 1215.0,1256.0 1215.3,1258.7 1215.9,1261.3 1217.0,1264.0 1238.5,1272.0 1238.5,1272.0 1238.2,1269.2 1237.0,1266.5 1236.9,1263.7 1237.3,1263.2 1234.0,1262.6 1232.9,1259.9 1234.6,1257.1 1232.5,1254.4 1231.8,1251.5 1231.9,1248.6 1230.5,1245.7 1229.1,1242.8 1227.8,1240.1 1228.1,1237.5 1227.0,1234.8 1225.5,1232.2 1224.1,1229.5 1222.8,1226.9 1222.9,1224.2 1220.3,1221.3 1215.4,1218.4 1214.4,1215.5 1214.2,1212.6 1212.3,1209.6 1212.2,1206.7 1211.9,1204.2 1209.8,1201.6 1209.2,1199.1 1207.1,1196.5 1203.6,1194.0 1201.2,1191.3 1198.3,1188.5 1194.5,1185.8 1192.4,1182.7 1190.0,1179.6 1188.2,1176.5 1188.8,1173.7 1187.6,1170.9 1185.5,1168.2 1184.1,1165.4 1182.7,1162.6 1181.8,1160.1 1182.4,1157.6 1180.9,1155.1 1179.4,1152.6 1179.8,1150.1 1180.3,1147.6 1178.6,1145.1" fill="#FF0000" stroke="#FF0000" stroke-width="1.2" stroke-linejoin="round"/>
<polyline points="811.6,956.0 846.7,977.5 867.5,1015.3 902.4,1035.3 912.8,1048.7 926.1,1058.3 935.8,1065.0 939.5,1064.3 943.9,1056.9 947.6,1063.5 951.3,1051.7 954.3,1075.4 958.0,1047.2 963.2,1078.4 966.2,1059.1 970.6,1081.3 973.6,1068.7 977.3,1092.5 984.0,1095.4 989.7,1099.4 1004.5,1108.3 1019.3,1120.2 1026.8,1133.5 1030.0,1138.0" fill="none" stroke="#7B0580" stroke-width="3.4" stroke-linejoin="round" />
<polygon points="1030.0,1136.9 1031.4,1136.9 1031.8,1137.0 1033.2,1137.0 1033.6,1138.6 1035.0,1138.6 1035.4,1139.8 1036.8,1139.8 1037.2,1142.4 1038.6,1142.4 1039.0,1142.1 1040.4,1142.1 1040.8,1144.8 1042.2,1144.8 1042.6,1145.7 1044.0,1145.7 1044.4,1146.1 1045.8,1146.1 1046.2,1147.4 1047.6,1147.4 1048.0,1149.6 1049.4,1149.6 1049.8,1150.7 1051.2,1150.7 1051.6,1150.7 1053.0,1150.7 1053.4,1153.9 1054.8,1153.9 1055.2,1154.6 1056.6,1154.6 1057.0,1157.7 1058.4,1157.7 1058.8,1157.4 1060.2,1157.4 1060.6,1159.5 1062.0,1159.5 1062.4,1162.5 1063.8,1162.5 1064.2,1163.1 1065.6,1163.1 1066.0,1164.6 1067.4,1164.6 1067.8,1165.4 1069.2,1165.4 1069.6,1165.5 1071.0,1165.5 1071.4,1166.2 1072.8,1166.2 1073.2,1167.4 1074.6,1167.4 1075.0,1169.2 1076.4,1169.2 1076.8,1169.6 1078.2,1169.6 1078.6,1170.9 1080.0,1170.9 1080.4,1173.3 1081.8,1173.3 1082.2,1174.7 1083.6,1174.7 1084.0,1176.9 1085.4,1176.9 1085.8,1178.1 1087.2,1178.1 1087.6,1180.3 1089.0,1180.3 1089.4,1182.2 1090.8,1182.2 1091.2,1184.5 1092.6,1184.5 1093.0,1184.1 1094.4,1184.1 1094.8,1187.2 1096.2,1187.2 1096.6,1187.3 1098.0,1187.3 1098.4,1188.1 1099.8,1188.1 1100.2,1187.7 1101.6,1187.7 1102.0,1191.4 1103.4,1191.4 1103.8,1193.7 1105.2,1193.7 1105.6,1196.7 1107.0,1196.7 1107.4,1194.7 1108.8,1194.7 1109.2,1199.6 1110.6,1199.6 1111.0,1198.8 1112.4,1198.8 1112.8,1202.2 1114.2,1202.2 1114.6,1199.7 1116.0,1199.7 1116.4,1201.0 1117.8,1201.0 1118.2,1204.4 1119.6,1204.4 1120.0,1203.8 1121.4,1203.8 1121.8,1206.8 1123.2,1206.8 1123.6,1206.9 1125.0,1206.9 1125.4,1212.2 1126.8,1212.2 1127.2,1209.8 1128.6,1209.8 1129.0,1213.5 1130.4,1213.5 1130.8,1216.8 1132.2,1216.8 1132.6,1215.7 1134.0,1215.7 1134.4,1216.2 1135.8,1216.2 1136.2,1220.2 1137.6,1220.2 1138.0,1220.9 1139.4,1220.9 1139.8,1219.2 1141.2,1219.2 1141.6,1222.0 1143.0,1222.0 1143.4,1222.9 1144.8,1222.9 1145.2,1226.4 1146.6,1226.4 1147.0,1225.9 1148.4,1225.9 1148.8,1226.4 1150.2,1226.4 1150.6,1227.2 1152.0,1227.2 1152.4,1229.5 1153.8,1229.5 1154.2,1231.6 1155.6,1231.6 1156.0,1230.7 1157.4,1230.7 1157.8,1230.5 1159.2,1230.5 1159.6,1232.3 1161.0,1232.3 1161.4,1230.0 1162.6,1230.0 1163.0,1241.0 1165.8,1241.0 1166.2,1233.4 1169.0,1233.4 1169.4,1235.8 1171.4,1235.8 1171.8,1239.3 1173.0,1239.3 1173.4,1245.0 1174.6,1245.0 1175.0,1238.6 1177.8,1238.6 1178.2,1248.4 1181.0,1248.4 1181.4,1243.0 1182.6,1243.0 1183.0,1252.0 1184.2,1252.0 1184.6,1253.2 1185.8,1253.2 1186.2,1254.7 1189.0,1254.7 1189.4,1253.0 1190.6,1253.0 1191.0,1252.2 1192.2,1252.2 1192.6,1254.9 1193.8,1254.9 1194.2,1257.1 1196.2,1257.1 1196.6,1254.8 1197.8,1254.8 1198.2,1249.7 1199.4,1249.7 1199.8,1249.0 1201.8,1249.0 1202.2,1257.8 1205.0,1257.8 1205.4,1259.8 1207.4,1259.8 1207.8,1264.7 1209.0,1264.7 1209.4,1257.2 1211.4,1257.2 1211.8,1254.3 1214.6,1254.3 1215.0,1262.4 1217.0,1262.4 1217.4,1264.9 1218.6,1264.9 1219.0,1268.9 1220.2,1268.9 1220.6,1267.3 1221.8,1267.3 1222.2,1258.0 1224.2,1258.0 1224.6,1269.8 1227.4,1269.8 1227.8,1269.2 1230.6,1269.2 1231.0,1272.6 1233.8,1272.6 1234.2,1262.0 1235.4,1262.0 1235.8,1270.2 1238.6,1270.2 1239.0,1270.7 1241.8,1270.7 1242.2,1265.6 1244.2,1265.6 1244.6,1267.6 1245.8,1267.6 1246.2,1264.6 1247.4,1264.6 1247.8,1274.0 1249.0,1274.0 1249.4,1265.2 1252.2,1265.2 1252.6,1268.0 1253.8,1268.0 1254.2,1277.6 1256.2,1277.6 1256.6,1276.1 1258.6,1276.1 1259.0,1272.9 1260.2,1272.9 1260.6,1267.5 1263.4,1267.5 1263.8,1266.8 1265.0,1266.8 1265.4,1278.5 1267.4,1278.5 1267.8,1267.7 1269.8,1267.7 1270.2,1276.3 1272.2,1276.3 1272.6,1267.8 1275.4,1267.8 1275.8,1268.7 1277.0,1268.7 1277.4,1269.5 1280.2,1269.5 1280.6,1266.7 1282.6,1266.7 1283.0,1268.7 1285.0,1268.7 1285.4,1271.5 1286.6,1271.5 1287.0,1267.5 1288.2,1267.5 1288.6,1269.7 1291.4,1269.7 1291.8,1280.1 1293.8,1280.1 1294.0,1286.4 1292.5,1286.0 1291.0,1284.7 1289.5,1286.0 1288.0,1285.0 1286.5,1285.0 1285.0,1285.6 1283.5,1285.6 1282.0,1285.0 1280.5,1285.8 1279.0,1284.7 1277.5,1285.0 1276.0,1284.9 1274.5,1285.4 1273.0,1286.8 1271.5,1285.0 1270.0,1286.5 1268.5,1286.8 1267.0,1284.7 1265.5,1286.9 1264.0,1284.6 1262.5,1286.7 1261.0,1286.2 1259.5,1286.1 1258.0,1285.8 1256.5,1286.9 1255.0,1286.5 1253.5,1286.2 1252.0,1285.6 1250.5,1286.2 1249.0,1284.7 1247.5,1287.0 1246.0,1286.0 1244.5,1285.5 1243.0,1284.8 1241.5,1286.8 1240.0,1286.3 1238.5,1285.1 1237.0,1285.4 1235.5,1285.6 1234.0,1284.6 1232.5,1286.6 1231.0,1284.7 1229.5,1285.1 1228.0,1284.8 1226.5,1286.2 1225.0,1286.6 1223.5,1286.3 1222.0,1284.8 1220.5,1286.3 1219.0,1285.0 1217.5,1286.1 1216.0,1285.2 1214.5,1286.6 1213.0,1286.9 1211.5,1285.6 1210.0,1286.9 1208.5,1285.3 1207.0,1286.2 1205.5,1285.3 1204.0,1284.7 1202.5,1284.7 1201.0,1284.9 1199.5,1286.1 1198.0,1286.6 1196.5,1285.2 1195.0,1285.5 1193.5,1286.1 1192.0,1286.5 1190.5,1286.6 1189.0,1285.1 1187.5,1285.1 1186.0,1286.2 1184.5,1285.4 1183.0,1284.9 1181.5,1284.7 1180.0,1285.2 1178.5,1284.7 1177.0,1285.1 1175.5,1285.0 1174.0,1285.8 1172.5,1284.8 1171.0,1286.8 1169.5,1285.2 1168.0,1285.1 1166.5,1285.0 1165.0,1286.1 1163.5,1285.2 1162.0,1277.0 1160.5,1275.7 1159.0,1275.0 1157.5,1276.7 1156.0,1275.1 1154.5,1274.8 1153.0,1276.0 1151.5,1274.6 1150.0,1270.0 1148.5,1262.2 1147.0,1257.4 1145.5,1251.6 1144.0,1250.1 1142.5,1250.0 1141.0,1248.1 1139.5,1246.3 1138.0,1244.4 1136.5,1244.1 1135.0,1241.0 1133.5,1239.2 1132.0,1237.3 1130.5,1236.7 1129.0,1235.5 1127.5,1234.6 1126.0,1231.3 1124.5,1231.4 1123.0,1229.3 1121.5,1227.2 1120.0,1224.2 1118.5,1223.6 1117.0,1222.6 1115.5,1220.4 1114.0,1217.4 1112.5,1216.2 1111.0,1214.9 1109.5,1211.8 1108.0,1210.2 1106.5,1208.9 1105.0,1207.1 1103.5,1204.9 1102.0,1203.5 1100.5,1202.8 1099.0,1200.1 1097.5,1197.6 1096.0,1196.4 1094.5,1194.1 1093.0,1192.5 1091.5,1192.4 1090.0,1189.4 1088.5,1187.8 1087.0,1186.5 1085.5,1185.8 1084.0,1184.8 1082.5,1183.8 1081.0,1181.7 1079.5,1180.6 1078.0,1179.1 1076.5,1178.1 1075.0,1178.8 1073.5,1176.1 1072.0,1176.0 1070.5,1174.1 1069.0,1174.4 1067.5,1172.1 1066.0,1172.0 1064.5,1171.5 1063.0,1169.5 1061.5,1169.2 1060.0,1167.0 1058.5,1164.6 1057.0,1164.9 1055.5,1162.7 1054.0,1161.5 1052.5,1159.1 1051.0,1160.0 1049.5,1156.4 1048.0,1155.3 1046.5,1155.1 1045.0,1155.0 1043.5,1154.0 1042.0,1151.2 1040.5,1149.5 1039.0,1149.3 1037.5,1149.6 1036.0,1147.5 1034.5,1145.0 1033.0,1144.6 1031.5,1143.0 1030.0,1141.3" fill="#7B0580" stroke="#7B0580" stroke-width="0.8" stroke-linejoin="round"/>
<line x1="1200.5" y1="1253.5" x2="1200.5" y2="1285.5" stroke="#FFFFFF" stroke-width="0.7" stroke-linecap="butt" opacity="0.8"/>
<line x1="1214.0" y1="1258.8" x2="1214.0" y2="1285.5" stroke="#FFFFFF" stroke-width="0.7" stroke-linecap="butt" opacity="0.8"/>
<line x1="1226.0" y1="1262.5" x2="1226.0" y2="1285.5" stroke="#FFFFFF" stroke-width="0.7" stroke-linecap="butt" opacity="0.8"/>
<line x1="1236.5" y1="1266.0" x2="1236.5" y2="1285.5" stroke="#FFFFFF" stroke-width="0.7" stroke-linecap="butt" opacity="0.8"/>
<line x1="1247.0" y1="1268.3" x2="1247.0" y2="1285.5" stroke="#FFFFFF" stroke-width="0.7" stroke-linecap="butt" opacity="0.8"/>
<line x1="1256.0" y1="1269.5" x2="1256.0" y2="1285.5" stroke="#FFFFFF" stroke-width="0.7" stroke-linecap="butt" opacity="0.8"/>
<line x1="1262.5" y1="1269.9" x2="1262.5" y2="1285.5" stroke="#FFFFFF" stroke-width="0.7" stroke-linecap="butt" opacity="0.8"/>
<line x1="1268.5" y1="1270.3" x2="1268.5" y2="1285.5" stroke="#FFFFFF" stroke-width="0.7" stroke-linecap="butt" opacity="0.8"/>
<line x1="1273.2" y1="1270.6" x2="1273.2" y2="1285.5" stroke="#FFFFFF" stroke-width="0.7" stroke-linecap="butt" opacity="0.8"/>
<line x1="1279.5" y1="1271.0" x2="1279.5" y2="1285.5" stroke="#FFFFFF" stroke-width="0.7" stroke-linecap="butt" opacity="0.8"/>
<line x1="1283.8" y1="1271.3" x2="1283.8" y2="1285.5" stroke="#FFFFFF" stroke-width="0.7" stroke-linecap="butt" opacity="0.8"/>
<line x1="1288.2" y1="1271.6" x2="1288.2" y2="1285.5" stroke="#FFFFFF" stroke-width="0.7" stroke-linecap="butt" opacity="0.8"/>
<polygon points="1030.0,1137.0 1034.0,1131.0 1038.0,1133.0 1041.0,1125.0 1044.0,1128.0 1046.0,1115.0 1048.0,1127.0 1050.0,1124.0 1052.0,1111.0 1054.0,1128.0 1057.0,1133.0 1059.0,1150.0 1049.0,1150.0 1034.2,1141.0" fill="#7B0580" stroke="#7B0580" stroke-width="1.0" stroke-linejoin="round"/>
<line x1="801.0" y1="944.5" x2="811.6" y2="944.5" stroke="#000" stroke-width="3.6" stroke-linecap="butt" />
<text x="776.8" y="956.6" font-size="34.2" text-anchor="end">10</text>
<text x="779.5" y="945.7" font-size="21.5" text-anchor="start">0</text>
<line x1="801.0" y1="993.0" x2="811.6" y2="993.0" stroke="#000" stroke-width="3.6" stroke-linecap="butt" />
<text x="776.8" y="1005.1" font-size="34.2" text-anchor="end">10</text>
<text x="779.5" y="994.2" font-size="21.5" text-anchor="start">-1</text>
<line x1="801.0" y1="1041.5" x2="811.6" y2="1041.5" stroke="#000" stroke-width="3.6" stroke-linecap="butt" />
<text x="776.8" y="1053.6" font-size="34.2" text-anchor="end">10</text>
<text x="779.5" y="1042.7" font-size="21.5" text-anchor="start">-2</text>
<line x1="801.0" y1="1090.0" x2="811.6" y2="1090.0" stroke="#000" stroke-width="3.6" stroke-linecap="butt" />
<text x="776.8" y="1102.1" font-size="34.2" text-anchor="end">10</text>
<text x="779.5" y="1091.2" font-size="21.5" text-anchor="start">-3</text>
<line x1="801.0" y1="1138.5" x2="811.6" y2="1138.5" stroke="#000" stroke-width="3.6" stroke-linecap="butt" />
<text x="776.8" y="1150.6" font-size="34.2" text-anchor="end">10</text>
<text x="779.5" y="1139.7" font-size="21.5" text-anchor="start">-4</text>
<line x1="801.0" y1="1187.0" x2="811.6" y2="1187.0" stroke="#000" stroke-width="3.6" stroke-linecap="butt" />
<text x="776.8" y="1199.1" font-size="34.2" text-anchor="end">10</text>
<text x="779.5" y="1188.2" font-size="21.5" text-anchor="start">-5</text>
<line x1="801.0" y1="1235.5" x2="811.6" y2="1235.5" stroke="#000" stroke-width="3.6" stroke-linecap="butt" />
<text x="776.8" y="1247.6" font-size="34.2" text-anchor="end">10</text>
<text x="779.5" y="1236.7" font-size="21.5" text-anchor="start">-6</text>
<line x1="801.0" y1="1284.0" x2="811.6" y2="1284.0" stroke="#000" stroke-width="3.6" stroke-linecap="butt" />
<text x="776.8" y="1296.1" font-size="34.2" text-anchor="end">10</text>
<text x="779.5" y="1285.2" font-size="21.5" text-anchor="start">-7</text>
<line x1="847.4" y1="1284.0" x2="847.4" y2="1295.3" stroke="#000" stroke-width="3.6" stroke-linecap="butt" />
<text x="858.9" y="1328.0" font-size="34.2" text-anchor="end">10</text>
<text x="861.7" y="1317.5" font-size="21.5" text-anchor="start">2</text>
<line x1="965.9" y1="1284.0" x2="965.9" y2="1295.3" stroke="#000" stroke-width="3.6" stroke-linecap="butt" />
<text x="977.4" y="1328.0" font-size="34.2" text-anchor="end">10</text>
<text x="980.2" y="1317.5" font-size="21.5" text-anchor="start">3</text>
<line x1="1084.4" y1="1284.0" x2="1084.4" y2="1295.3" stroke="#000" stroke-width="3.6" stroke-linecap="butt" />
<text x="1095.9" y="1328.0" font-size="34.2" text-anchor="end">10</text>
<text x="1098.7" y="1317.5" font-size="21.5" text-anchor="start">4</text>
<line x1="1202.9" y1="1284.0" x2="1202.9" y2="1295.3" stroke="#000" stroke-width="3.6" stroke-linecap="butt" />
<text x="1214.4" y="1328.0" font-size="34.2" text-anchor="end">10</text>
<text x="1217.2" y="1317.5" font-size="21.5" text-anchor="start">5</text>
<line x1="1321.4" y1="1284.0" x2="1321.4" y2="1295.3" stroke="#000" stroke-width="3.6" stroke-linecap="butt" />
<text x="1332.9" y="1328.0" font-size="34.2" text-anchor="end">10</text>
<text x="1335.7" y="1317.5" font-size="21.5" text-anchor="start">6</text>
<text x="1068.7" y="1365.6" font-size="33.0" text-anchor="middle" >Energy (eV)</text>
<text x="685.7" y="1109.4" font-size="32.6" text-anchor="middle" transform="rotate(-90 685.7 1109.4)">Normalised number of</text>
<text x="724.9" y="1111.8" font-size="32.6" text-anchor="middle" transform="rotate(-90 724.9 1111.8)">secondary electrons</text>
<line x1="1186.1" y1="944.8" x2="1223.9" y2="944.8" stroke="#FF0000" stroke-width="3.5" stroke-linecap="butt" />
<text x="1244.0" y="957.1" font-size="33.3" text-anchor="start" >XR</text>
<line x1="1186.1" y1="977.0" x2="1223.9" y2="977.0" stroke="#0000FF" stroke-width="3.5" stroke-linecap="butt" />
<text x="1244.0" y="989.3" font-size="33.3" text-anchor="start" >GR</text>
<line x1="1186.1" y1="1009.3" x2="1223.9" y2="1009.3" stroke="#7B0580" stroke-width="3.5" stroke-linecap="butt" />
<text x="1244.0" y="1021.6" font-size="33.3" text-anchor="start" >E</text>
<text x="637.2" y="956.0" font-size="43" text-anchor="start" font-weight="bold" >f</text>
</svg>
</body></html>
